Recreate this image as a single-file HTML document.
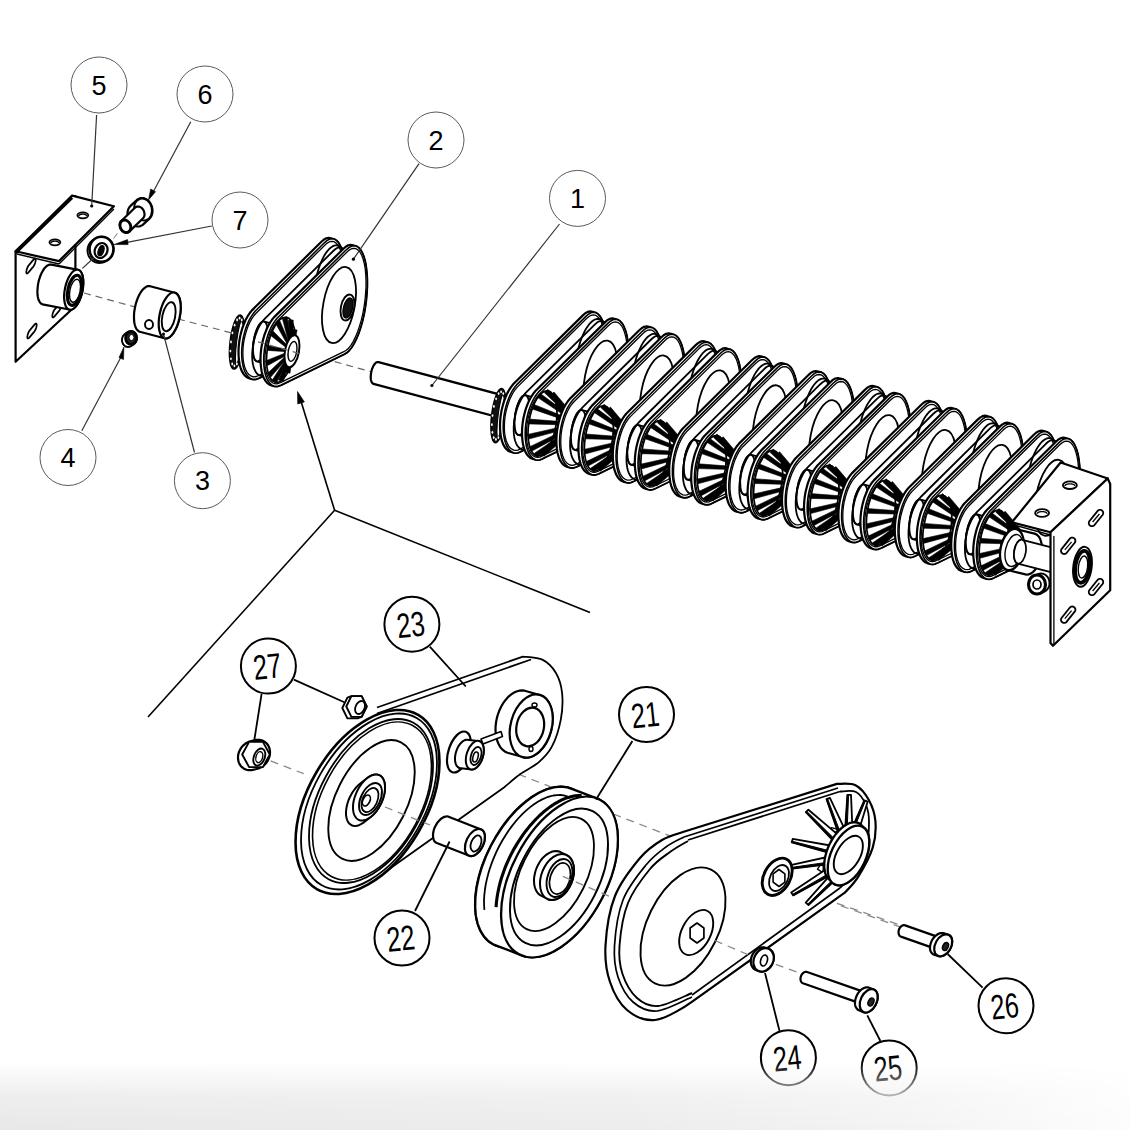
<!DOCTYPE html><html><head><meta charset="utf-8"><style>html,body{margin:0;padding:0;background:#fff;}svg{display:block;font-family:"Liberation Sans",sans-serif;}</style></head><body><svg width="1130" height="1130" viewBox="0 0 1130 1130"><rect x="0" y="0" width="1130" height="1130" fill="#fff"/><line x1="334.6" y1="510.3" x2="148" y2="717" stroke="#000" stroke-width="1.6" /><line x1="334.6" y1="510.3" x2="590" y2="612.5" stroke="#000" stroke-width="1.6" /><line x1="334.6" y1="510.3" x2="300" y2="398" stroke="#000" stroke-width="1.6" /><path d="M297.5,391.5 304.4,401.9 297.7,404 Z" fill="#000" stroke="#000" stroke-width="0.6" stroke-linejoin="round" /><line x1="84" y1="293" x2="139" y2="308" stroke="#666" stroke-width="1.2" stroke-dasharray="7 5"/><line x1="178" y1="319" x2="232" y2="333" stroke="#666" stroke-width="1.2" stroke-dasharray="7 5"/><line x1="300" y1="352" x2="372" y2="372" stroke="#666" stroke-width="1.2" stroke-dasharray="7 5"/><path d="M15.6,251.3 15.6,361.8 75.4,306 75.4,196 Z" fill="#fff" stroke="#000" stroke-width="2.2" stroke-linejoin="round" /><path d="M26.3,272.2 26.3,271.7 26.4,271.2 26.4,270.7 26.6,270.2 26.7,269.6 26.9,269 27.1,268.4 27.3,267.8 27.6,267.3 27.9,266.8 28.1,266.3 28.4,265.8 28.7,265.4 33.7,259.4 34,259.1 34.3,258.8 34.5,258.6 34.8,258.5 35,258.5 35.2,258.5 35.4,258.6 35.5,258.8 35.6,259.1 35.7,259.4 35.7,259.8 35.7,260.3 35.6,260.8 35.6,261.3 35.4,261.8 35.3,262.4 35.1,263 34.9,263.6 34.7,264.2 34.4,264.7 34.1,265.2 33.9,265.7 33.6,266.2 33.3,266.6 28.3,272.6 28,272.9 27.7,273.2 27.5,273.4 27.2,273.5 27,273.5 26.8,273.5 26.6,273.4 26.5,273.2 26.4,272.9 26.3,272.6 Z" fill="#fff" stroke="#000" stroke-width="1.7" stroke-linejoin="round" /><path d="M27.3,337.2 27.3,336.7 27.4,336.2 27.4,335.7 27.6,335.2 27.7,334.6 27.9,334 28.1,333.4 28.3,332.8 28.6,332.3 28.9,331.8 29.1,331.3 29.4,330.8 29.7,330.4 34.7,324.4 35,324.1 35.3,323.8 35.5,323.6 35.8,323.5 36,323.5 36.2,323.5 36.4,323.6 36.5,323.8 36.6,324.1 36.7,324.4 36.7,324.8 36.7,325.3 36.6,325.8 36.6,326.3 36.4,326.8 36.3,327.4 36.1,328 35.9,328.6 35.7,329.2 35.4,329.7 35.1,330.2 34.9,330.7 34.6,331.2 34.3,331.6 29.3,337.6 29,337.9 28.7,338.2 28.5,338.4 28.2,338.5 28,338.5 27.8,338.5 27.6,338.4 27.5,338.2 27.4,337.9 27.3,337.6 Z" fill="#fff" stroke="#000" stroke-width="1.7" stroke-linejoin="round" /><path d="M52.3,316.2 52.3,315.7 52.4,315.2 52.4,314.7 52.6,314.2 52.7,313.6 52.9,313 53.1,312.4 53.3,311.8 53.6,311.3 53.9,310.8 54.1,310.3 54.4,309.8 54.7,309.4 59.7,303.4 60,303.1 60.3,302.8 60.5,302.6 60.8,302.5 61,302.5 61.2,302.5 61.4,302.6 61.5,302.8 61.6,303.1 61.7,303.4 61.7,303.8 61.7,304.3 61.6,304.8 61.6,305.3 61.4,305.8 61.3,306.4 61.1,307 60.9,307.6 60.7,308.2 60.4,308.7 60.1,309.2 59.9,309.7 59.6,310.2 59.3,310.6 54.3,316.6 54,316.9 53.7,317.2 53.5,317.4 53.2,317.5 53,317.5 52.8,317.5 52.6,317.4 52.5,317.2 52.4,316.9 52.3,316.6 Z" fill="#fff" stroke="#000" stroke-width="1.7" stroke-linejoin="round" /><path d="M15.6,251.3 72.1,195.6 113.9,206.3 59,261.1 Z" fill="#fff" stroke="#000" stroke-width="2.2" stroke-linejoin="round" /><line x1="17" y1="254" x2="59" y2="264" stroke="#000" stroke-width="1.4" /><line x1="59" y1="264" x2="113.9" y2="209" stroke="#000" stroke-width="1.4" /><line x1="15.6" y1="253" x2="72.1" y2="197.6" stroke="#000" stroke-width="2.9" /><ellipse cx="82.8" cy="215.3" rx="5.5" ry="3" transform="rotate(0 82.8 215.3)" fill="#fff" stroke="#000" stroke-width="1.7" /><path d="M78.8,216.1 78.8,215.9 78.9,215.7 79,215.5 79.1,215.3 79.3,215.2 79.5,215 79.7,214.8 80,214.7 80.3,214.6 80.6,214.4 80.9,214.3 81.3,214.3 81.6,214.2 82,214.1 82.4,214.1 82.8,214.1 83.2,214.1 83.6,214.1 84,214.2 84.3,214.3 84.7,214.3 85,214.4 85.3,214.6 85.6,214.7 85.9,214.8 86.1,215 86.3,215.2 86.5,215.3 86.6,215.5 86.7,215.7 86.8,215.9 86.8,216.1" fill="none" stroke="#000" stroke-width="1.4" stroke-linejoin="round" /><ellipse cx="54.9" cy="242.3" rx="5.5" ry="3" transform="rotate(0 54.9 242.3)" fill="#fff" stroke="#000" stroke-width="1.7" /><path d="M50.9,243.1 50.9,242.9 51,242.7 51.1,242.5 51.2,242.3 51.4,242.2 51.6,242 51.8,241.8 52.1,241.7 52.4,241.6 52.7,241.4 53,241.3 53.4,241.3 53.7,241.2 54.1,241.1 54.5,241.1 54.9,241.1 55.3,241.1 55.7,241.1 56.1,241.2 56.4,241.3 56.8,241.3 57.1,241.4 57.4,241.6 57.7,241.7 58,241.8 58.2,242 58.4,242.2 58.6,242.3 58.7,242.5 58.8,242.7 58.9,242.9 58.9,243.1" fill="none" stroke="#000" stroke-width="1.4" stroke-linejoin="round" /><path d="M37.4,292.1 37.5,289.7 37.7,287.1 38,284.5 38.5,281.9 39.2,279.3 40,276.9 40.9,274.5 42,272.3 43.1,270.4 44.2,268.6 45.5,267.2 46.7,266 48,265.2 49.2,264.7 50.4,264.5 51.5,264.7 78.2,269.9 79.3,270.4 80.3,271.2 81.1,272.4 81.9,273.8 82.5,275.6 82.9,277.5 83.2,279.7 83.3,282.1 83.2,284.5 83,287.1 82.7,289.7 82.2,292.3 81.5,294.9 80.7,297.4 79.8,299.7 78.8,301.9 77.6,303.8 76.5,305.6 75.2,307 74,308.2 72.7,309 71.5,309.5 70.3,309.7 69.2,309.5 42.5,304.3 41.4,303.8 40.4,303 39.6,301.8 38.8,300.4 38.2,298.6 37.8,296.7 37.5,294.5 Z" fill="#fff" stroke="#000" stroke-width="2.2" stroke-linejoin="round" /><ellipse cx="73.7" cy="289.7" rx="20.4" ry="8.8" transform="rotate(101.9 73.7 289.7)" fill="#fff" stroke="#000" stroke-width="2.2" /><ellipse cx="74.5" cy="290.3" rx="15.3" ry="6.6" transform="rotate(101.9 74.5 290.3)" fill="#fff" stroke="#000" stroke-width="3.1" /><ellipse cx="75" cy="290.8" rx="11.7" ry="5.1" transform="rotate(101.9 75 290.8)" fill="#fff" stroke="#000" stroke-width="1.4" /><path d="M87.5,250.5 87.6,248.9 87.9,247.3 88.4,245.7 89.1,244.2 90,242.9 91,241.7 92.2,240.6 93.5,239.7 95.5,238.5 96.9,237.8 98.4,237.2 99.9,236.9 101.5,236.8 103.1,236.9 104.6,237.2 106.1,237.8 107.5,238.5 108.8,239.4 110,240.5 111,241.7 111.9,243.1 112.6,244.5 113.1,246.1 113.4,247.7 113.5,249.3 113.4,250.9 113.1,252.5 112.6,254.1 111.9,255.6 111,256.9 110,258.1 108.8,259.2 107.5,260.1 105.5,261.3 104.1,262.1 102.6,262.6 101.1,262.9 99.5,263 97.9,262.9 96.4,262.6 94.9,262.1 93.5,261.3 92.2,260.4 91,259.3 90,258.1 89.1,256.8 88.4,255.3 87.9,253.7 87.6,252.1 Z" fill="#fff" stroke="#000" stroke-width="1.9" stroke-linejoin="round" /><ellipse cx="101.5" cy="249.3" rx="12" ry="12.5" transform="rotate(0 101.5 249.3)" fill="#fff" stroke="#000" stroke-width="2.6" /><ellipse cx="101.1" cy="250.5" rx="7.7" ry="6.2" transform="rotate(113.5 101.1 250.5)" fill="#fff" stroke="#000" stroke-width="2.2" /><ellipse cx="101" cy="250.7" rx="5.2" ry="2.6" transform="rotate(108.4 101 250.7)" fill="#000" stroke="#000" stroke-width="1.4" /><path d="M127.5,213.5 127.6,212 127.9,210.6 128.3,209.2 128.9,208 129.6,206.9 130.5,205.9 136.5,200.4 137.4,199.5 138.5,198.9 139.6,198.4 140.8,198.1 142,198 143.2,198.1 144.5,198.4 145.7,198.9 146.9,199.5 148,200.4 149,201.4 149.9,202.5 150.7,203.8 151.3,205.1 151.9,206.5 152.2,208 152.4,209.5 152.5,211 152.4,212.5 152.1,213.9 151.7,215.2 151.1,216.5 150.4,217.6 149.5,218.6 143.5,224.1 142.6,225 141.5,225.6 140.4,226.1 139.2,226.4 138,226.5 136.8,226.4 135.5,226.1 134.3,225.6 133.1,225 132,224.1 131,223.1 130.1,222 129.3,220.8 128.7,219.4 128.1,218 127.8,216.5 127.5,215 Z" fill="#fff" stroke="#000" stroke-width="2.2" stroke-linejoin="round" /><ellipse cx="143" cy="209.5" rx="11.1" ry="8.8" transform="rotate(75.6 143 209.5)" fill="#fff" stroke="#000" stroke-width="1.9" /><path d="M119.9,225.3 119.9,224.5 120,223.7 120.2,222.9 120.5,222.2 120.9,221.6 121.3,221 134.9,207.8 135.4,207.4 136,207 136.6,206.7 137.3,206.6 138,206.5 138.7,206.6 139.4,206.7 140.2,207 140.8,207.4 141.5,207.8 142.1,208.4 142.7,209 143.2,209.8 143.6,210.5 144,211.3 144.2,212.2 144.4,213 144.5,213.8 144.5,214.7 144.4,215.5 144.2,216.2 143.9,217 143.5,217.6 143.1,218.2 129.5,231.4 129,231.8 128.4,232.2 127.8,232.5 127.1,232.6 126.4,232.7 125.7,232.6 125,232.5 124.2,232.2 123.6,231.8 122.9,231.4 122.3,230.8 121.7,230.2 121.2,229.4 120.8,228.7 120.4,227.9 120.2,227.1 120,226.2 Z" fill="#fff" stroke="#000" stroke-width="2.2" stroke-linejoin="round" /><ellipse cx="125.4" cy="226.2" rx="6.5" ry="5.2" transform="rotate(63.4 125.4 226.2)" fill="#fff" stroke="#000" stroke-width="2.9" /><line x1="96.6" y1="115" x2="91.7" y2="206" stroke="#333" stroke-width="1.2" /><circle cx="91.7" cy="206" r="1.6" fill="#000"/><line x1="190.8" y1="121.8" x2="151" y2="196" stroke="#333" stroke-width="1.2" /><path d="M148.5,199.9 150.7,189 155.5,191.7 Z" fill="#000" stroke="#000" stroke-width="0.6" stroke-linejoin="round" /><line x1="211.8" y1="226" x2="127" y2="242.4" stroke="#333" stroke-width="1.2" /><path d="M114.2,244.5 127.5,239.6 128.1,244.6 Z" fill="#000" stroke="#000" stroke-width="0.6" stroke-linejoin="round" /><line x1="93.9" y1="257.7" x2="82.4" y2="268.4" stroke="#333" stroke-width="1.2" /><line x1="117.4" y1="233.4" x2="113.5" y2="238.5" stroke="#777" stroke-width="1" /><path d="M134,317.8 134,314.9 134.2,312 134.7,309 135.3,306 136,303.1 137,300.2 138,297.5 139.2,295 140.5,292.7 141.8,290.8 143.2,289.1 144.7,287.8 146.1,286.8 147.5,286.2 148.9,286 150.2,286.2 174.9,292.7 176.2,293.3 177.3,294.2 178.2,295.6 179.1,297.2 179.8,299.2 180.3,301.5 180.6,304 180.7,306.7 180.7,309.6 180.4,312.5 180,315.5 179.4,318.5 178.7,321.4 177.7,324.3 176.7,327 175.5,329.5 174.2,331.8 172.9,333.8 171.5,335.4 170,336.8 168.6,337.7 167.2,338.3 165.8,338.5 164.5,338.3 139.8,331.8 138.6,331.2 137.4,330.2 136.4,328.9 135.6,327.2 134.9,325.3 134.4,323 134.1,320.5 Z" fill="#fff" stroke="#000" stroke-width="2.2" stroke-linejoin="round" /><ellipse cx="169.7" cy="315.5" rx="23.4" ry="10.1" transform="rotate(101.9 169.7 315.5)" fill="#fff" stroke="#000" stroke-width="2.2" /><ellipse cx="168.7" cy="316.7" rx="14.8" ry="6.4" transform="rotate(101.9 168.7 316.7)" fill="#fff" stroke="#000" stroke-width="1.9" /><ellipse cx="149" cy="324.5" rx="4" ry="4.5" transform="rotate(0 149 324.5)" fill="#fff" stroke="#000" stroke-width="1.9" /><path d="M122,340 122,339.1 122.2,338.2 122.5,337.3 122.8,336.5 123.2,335.7 123.8,335.1 124.3,334.4 125,333.9 128,331.9 128.7,331.5 129.4,331.2 130.2,331.1 131,331 131.8,331.1 132.6,331.2 133.3,331.5 134,331.9 134.7,332.4 135.2,333.1 135.8,333.7 136.2,334.5 136.5,335.3 136.8,336.2 136.9,337.1 137,338 136.9,338.9 136.8,339.8 136.5,340.7 136.2,341.5 135.8,342.3 135.2,342.9 134.7,343.6 134,344.1 131,346.1 130.3,346.5 129.6,346.8 128.8,346.9 128,347 127.2,346.9 126.5,346.8 125.7,346.5 125,346.1 124.3,345.6 123.8,344.9 123.2,344.3 122.8,343.5 122.5,342.7 122.2,341.8 122,340.9 Z" fill="#fff" stroke="#000" stroke-width="1.9" stroke-linejoin="round" /><ellipse cx="131" cy="338" rx="5.5" ry="6.5" transform="rotate(0 131 338)" fill="#222" stroke="#000" stroke-width="2.6" /><ellipse cx="131.5" cy="337.5" rx="2.5" ry="3" transform="rotate(0 131.5 337.5)" fill="#fff" stroke="#000" stroke-width="1" /><line x1="163.5" y1="334" x2="194.5" y2="452.5" stroke="#333" stroke-width="1.2" /><circle cx="163.5" cy="334" r="1.5" fill="#000"/><line x1="121" y1="357" x2="81.8" y2="430.7" stroke="#333" stroke-width="1.2" /><path d="M123.9,347 119,357.5 123.5,359.5 Z" fill="#000" stroke="#000" stroke-width="0.6" stroke-linejoin="round" /><defs><g id="ru0"><ellipse cx="-41" cy="-7" rx="27.2" ry="6.8" transform="rotate(96.8 -41 -7)" fill="#111" stroke="#000" stroke-width="1.7" /><ellipse cx="-39" cy="-6.6" rx="21.2" ry="2.4" transform="rotate(96.9 -39 -6.6)" fill="#fff" stroke="#000" stroke-width="1" /><ellipse cx="-35" cy="-7" rx="0.9" ry="1.4" transform="rotate(0 -35 -7)" fill="#fff" stroke="none" stroke-width="0" /><ellipse cx="-36.4" cy="2.1" rx="0.9" ry="1.4" transform="rotate(0 -36.4 2.1)" fill="#fff" stroke="none" stroke-width="0" /><ellipse cx="-38.6" cy="9.8" rx="0.9" ry="1.4" transform="rotate(0 -38.6 9.8)" fill="#fff" stroke="none" stroke-width="0" /><ellipse cx="-41.1" cy="15" rx="0.9" ry="1.4" transform="rotate(0 -41.1 15)" fill="#fff" stroke="none" stroke-width="0" /><ellipse cx="-43.6" cy="16.8" rx="0.9" ry="1.4" transform="rotate(0 -43.6 16.8)" fill="#fff" stroke="none" stroke-width="0" /><ellipse cx="-45.8" cy="15" rx="0.9" ry="1.4" transform="rotate(0 -45.8 15)" fill="#fff" stroke="none" stroke-width="0" /><ellipse cx="-47.1" cy="9.8" rx="0.9" ry="1.4" transform="rotate(0 -47.1 9.8)" fill="#fff" stroke="none" stroke-width="0" /><ellipse cx="-47.6" cy="2.1" rx="0.9" ry="1.4" transform="rotate(0 -47.6 2.1)" fill="#fff" stroke="none" stroke-width="0" /><ellipse cx="-47" cy="-7" rx="0.9" ry="1.4" transform="rotate(0 -47 -7)" fill="#fff" stroke="none" stroke-width="0" /><ellipse cx="-45.6" cy="-16.1" rx="0.9" ry="1.4" transform="rotate(0 -45.6 -16.1)" fill="#fff" stroke="none" stroke-width="0" /><ellipse cx="-43.4" cy="-23.8" rx="0.9" ry="1.4" transform="rotate(0 -43.4 -23.8)" fill="#fff" stroke="none" stroke-width="0" /><ellipse cx="-40.9" cy="-29" rx="0.9" ry="1.4" transform="rotate(0 -40.9 -29)" fill="#fff" stroke="none" stroke-width="0" /><ellipse cx="-38.4" cy="-30.8" rx="0.9" ry="1.4" transform="rotate(0 -38.4 -30.8)" fill="#fff" stroke="none" stroke-width="0" /><ellipse cx="-36.2" cy="-29" rx="0.9" ry="1.4" transform="rotate(0 -36.2 -29)" fill="#fff" stroke="none" stroke-width="0" /><ellipse cx="-34.9" cy="-23.8" rx="0.9" ry="1.4" transform="rotate(0 -34.9 -23.8)" fill="#fff" stroke="none" stroke-width="0" /><ellipse cx="-34.4" cy="-16.1" rx="0.9" ry="1.4" transform="rotate(0 -34.4 -16.1)" fill="#fff" stroke="none" stroke-width="0" /><path d="M-39.5,2.5 -39.3,-2.2 -38.8,-7 -38,-11.8 -36.9,-16.4 -35.6,-21 -34,-25.2 -32.3,-29.2 -30.3,-32.8 -28.2,-36 -26.1,-38.6 43.1,-107 45.7,-109.3 48.2,-110.7 50.7,-111.2 53.1,-110.7 56.3,-109.8 58.5,-108.4 60.5,-106.2 62.3,-103 63.9,-99 65.2,-94.3 66.1,-89 66.8,-83 67.2,-76.7 67.2,-69.9 66.8,-62.9 66.2,-55.8 65.2,-48.7 64,-41.7 62.4,-34.9 60.6,-28.6 58.6,-22.6 56.4,-17.3 54,-12.6 51.6,-8.6 49,-5.5 46.5,-3.2 44,-1.8 -19.3,29.2 -21.6,30.1 -23.8,30.4 -25.9,30.1 -29.1,29.2 -31.2,28.3 -33,26.7 -34.7,24.6 -36.2,22 -37.4,18.8 -38.4,15.2 -39,11.2 -39.4,7 Z" fill="#fff" stroke="#000" stroke-width="2.2" stroke-linejoin="round" /><path d="M-36.3,3.4 -36.1,-1.3 -35.6,-6.1 -34.8,-10.9 -33.7,-15.6 -32.4,-20.1 -30.8,-24.4 -29.1,-28.3 -27.1,-31.9 -25,-35.1 -22.9,-37.7 46.4,-106.2 48.9,-108.4 51.4,-109.8 53.9,-110.3 56.3,-109.8 58.5,-108.4 60.5,-106.2 62.3,-103 63.9,-99 65.2,-94.3 66.1,-89 66.8,-83 67.2,-76.7 67.2,-69.9 66.8,-62.9 66.2,-55.8 65.2,-48.7 64,-41.7 62.4,-34.9 60.6,-28.6 58.6,-22.6 56.4,-17.3 54,-12.6 51.6,-8.6 49,-5.5 46.5,-3.2 44,-1.8 -19.3,29.2 -21.6,30.1 -23.8,30.4 -25.9,30.1 -28,29.2 -29.8,27.6 -31.5,25.5 -33,22.9 -34.2,19.7 -35.1,16.1 -35.8,12.2 -36.2,7.9 Z" fill="#fff" stroke="#000" stroke-width="1.6" stroke-linejoin="round" /><path d="M-35.1,2.7 -34.9,-1.7 -34.4,-6.1 -33.6,-10.5 -32.5,-14.9 -31.2,-19.1 -29.8,-23.1 -28.1,-26.7 -26.3,-30.1 -24.3,-33 -22.2,-35.5 46.8,-103.8 49.2,-105.9 51.6,-107.3 53.9,-107.7 56.1,-107.3 58.1,-105.9 60,-103.8 61.7,-100.8 63.1,-97 64.3,-92.5 65.2,-87.4 65.7,-81.8 66,-75.7 66,-69.2 65.6,-62.6 65,-55.8 64,-49 62.8,-42.4 61.3,-35.9 59.5,-29.9 57.6,-24.2 55.5,-19.1 53.3,-14.6 51,-10.8 48.6,-7.8 46.2,-5.7 43.8,-4.3 -19.6,26.6 -21.7,27.5 -23.8,27.8 -25.8,27.5 -27.6,26.6 -29.4,25.2 -30.9,23.3 -32.2,20.8 -33.3,17.9 -34.2,14.5 -34.8,10.8 -35.1,6.9 Z" fill="none" stroke="#000" stroke-width="1.3" stroke-linejoin="round" /><path d="M-25,0.1 -24.9,-2.3 -24.7,-4.9 -24.4,-7.5 -23.9,-10.1 -23.4,-12.7 -22.7,-15.2 -21.9,-17.5 -21.1,-19.7 -20.2,-21.6 -19.3,-23.4 -18.3,-24.8 -17.4,-26 -16.4,-26.8 -15.4,-27.3 -14.5,-27.5 -13.6,-27.3 -6.1,-25.3 -5.3,-24.8 -4.6,-24 -4,-22.8 -3.4,-21.4 -3,-19.6 -2.7,-17.7 -2.5,-15.5 -2.5,-13.2 -2.6,-10.7 -2.8,-8.1 -3.1,-5.5 -3.6,-2.9 -4.1,-0.3 -4.8,2.1 -5.5,4.5 -6.4,6.7 -7.3,8.6 -8.2,10.4 -9.2,11.8 -10.1,13 -11.1,13.8 -12.1,14.3 -13,14.5 -13.9,14.3 -21.4,12.3 -22.2,11.8 -22.9,11 -23.5,9.8 -24.1,8.4 -24.5,6.6 -24.8,4.7 -24.9,2.5 Z" fill="#fff" stroke="#000" stroke-width="1.9" stroke-linejoin="round" /><ellipse cx="-17.5" cy="-7.5" rx="20.1" ry="6.8" transform="rotate(99.7 -17.5 -7.5)" fill="#fff" stroke="#000" stroke-width="1.9" /><path d="M-25.8,8.2 -25.8,4.4 -25.5,0.5 -24.9,-3.5 -24.2,-7.5 -23.2,-11.4 -22,-15.2 -20.6,-18.8 -19,-22.1 -17.3,-25.1 -15.5,-27.7 -13.6,-29.9 55.2,-98 57.5,-100 59.6,-101.3 61.7,-101.7 63.7,-101.3 65.5,-100 67.2,-98 68.7,-95.2 69.9,-91.7 70.9,-87.5 71.7,-82.7 72.1,-77.5 72.3,-71.8 72.2,-65.8 71.8,-59.5 71.1,-53.2 70.2,-46.9 69,-40.6 67.5,-34.6 65.9,-28.9 64.1,-23.7 62.2,-18.9 60.1,-14.7 57.9,-11.2 55.8,-8.4 53.5,-6.3 51.4,-5.1 -12.2,26 -14.1,26.7 -16,27 -17.8,26.7 -19.4,26 -20.9,24.7 -22.3,22.9 -23.4,20.7 -24.4,18.1 -25.1,15.1 -25.6,11.8 Z" fill="none" stroke="#000" stroke-width="1.8" stroke-linejoin="round" /><path d="M36.2,-21.6 35.7,-24.7 35.2,-28 34.9,-31.5 34.6,-35.1 34.5,-38.8 34.5,-42.6 34.6,-46.5 34.9,-50.4 35.2,-54.4 35.7,-58.3 36.3,-62.2 37,-66.1 37.8,-69.9 38.7,-73.6 39.7,-77.1 40.7,-80.6 41.9,-83.8 43.1,-86.9 44.4,-89.7 45.7,-92.4 47.1,-94.7 48.6,-96.9 50,-98.7 51.5,-100.3 53,-101.6 54.5,-102.6 56,-103.3 57.5,-103.6 58.9,-103.7 60.4,-103.4 61.7,-102.9 63.1,-102" fill="none" stroke="#000" stroke-width="1.8" stroke-linejoin="round" /><path d="M-17.5,9.4 -17.3,4.8 -16.8,0 -16,-4.8 -14.9,-9.4 -13.6,-14 -12,-18.2 -10.3,-22.2 -8.3,-25.8 -6.2,-29 -4.1,-31.6 65.2,-100 67.7,-102.3 70.2,-103.7 72.7,-104.2 75.1,-103.7 78.3,-102.8 80.5,-101.4 82.5,-99.2 84.3,-96 85.9,-92 87.2,-87.3 88.1,-82 88.8,-76 89.2,-69.7 89.2,-62.9 88.8,-55.9 88.2,-48.8 87.2,-41.7 86,-34.7 84.4,-27.9 82.6,-21.6 80.6,-15.6 78.4,-10.3 76,-5.6 73.6,-1.6 71,1.6 68.5,3.8 66,5.2 2.7,36.2 0.4,37.1 -1.8,37.4 -4,37.1 -7.2,36.2 -9.2,35.3 -11,33.7 -12.7,31.6 -14.2,29 -15.4,25.8 -16.4,22.2 -17,18.2 -17.4,14 Z" fill="#fff" stroke="#000" stroke-width="2.2" stroke-linejoin="round" /><path d="M-14.3,10.3 -14.1,5.7 -13.6,0.9 -12.8,-3.9 -11.7,-8.6 -10.4,-13.1 -8.8,-17.4 -7.1,-21.3 -5.1,-24.9 -3,-28.1 -0.9,-30.7 68.3,-99.2 70.9,-101.4 73.4,-102.8 75.9,-103.3 78.3,-102.8 80.5,-101.4 82.5,-99.2 84.3,-96 85.9,-92 87.2,-87.3 88.1,-82 88.8,-76 89.2,-69.7 89.2,-62.9 88.8,-55.9 88.2,-48.8 87.2,-41.7 86,-34.7 84.4,-27.9 82.6,-21.6 80.6,-15.6 78.4,-10.3 76,-5.6 73.6,-1.6 71,1.6 68.5,3.8 66,5.2 2.7,36.2 0.4,37.1 -1.8,37.4 -4,37.1 -6,36.2 -7.8,34.6 -9.5,32.5 -11,29.9 -12.2,26.7 -13.2,23.1 -13.8,19.1 -14.2,14.9 Z" fill="#fff" stroke="#000" stroke-width="1.6" stroke-linejoin="round" /><path d="M-13.1,9.7 -12.9,5.3 -12.3,0.9 -11.6,-3.5 -10.5,-7.9 -9.2,-12.1 -7.8,-16.1 -6.1,-19.7 -4.3,-23.1 -2.3,-26 -0.2,-28.5 68.8,-96.8 71.2,-98.9 73.6,-100.3 75.9,-100.7 78.1,-100.3 80.2,-98.9 82,-96.8 83.7,-93.8 85.1,-90 86.3,-85.5 87.2,-80.4 87.7,-74.8 88,-68.7 88,-62.2 87.6,-55.6 87,-48.8 86,-42 84.8,-35.4 83.3,-28.9 81.5,-22.9 79.6,-17.2 77.5,-12.1 75.3,-7.6 73,-3.9 70.6,-0.8 68.2,1.3 65.8,2.7 2.4,33.6 0.3,34.5 -1.8,34.8 -3.8,34.5 -5.7,33.6 -7.4,32.2 -8.9,30.3 -10.2,27.8 -11.3,24.9 -12.2,21.5 -12.8,17.9 -13.1,13.9 Z" fill="none" stroke="#000" stroke-width="1.3" stroke-linejoin="round" /><ellipse cx="61" cy="-44" rx="38.6" ry="15.7" transform="rotate(100.8 61 -44)" fill="#fff" stroke="#000" stroke-width="1.8" /><ellipse cx="69.5" cy="-41.5" rx="13.2" ry="6.6" transform="rotate(101.7 69.5 -41.5)" fill="#fff" stroke="#000" stroke-width="1.9" /><ellipse cx="70" cy="-41" rx="10.2" ry="4.5" transform="rotate(104 70 -41)" fill="#111" stroke="#000" stroke-width="1.4" /><ellipse cx="3" cy="0.8" rx="32.9" ry="13.6" transform="rotate(99.5 3 0.8)" fill="#fff" stroke="#000" stroke-width="1.7" /><path d="M15.6,12.7 40.4,2.6 39.6,0.4 14,8.1 Z" fill="#000" stroke="#000" stroke-width="0.6" stroke-linejoin="round" /><path d="M11,25.7 40.7,2.5 39.3,0.5 8.2,21.8 Z" fill="#000" stroke="#000" stroke-width="0.6" stroke-linejoin="round" /><path d="M4.4,33.7 40.8,2.4 39.2,0.6 1.3,29.9 Z" fill="#000" stroke="#000" stroke-width="0.6" stroke-linejoin="round" /><path d="M-2.5,34.7 40.7,2.5 39.3,0.5 -5.3,30.8 Z" fill="#000" stroke="#000" stroke-width="0.6" stroke-linejoin="round" /><path d="M-7.9,28.6 40.5,2.6 39.5,0.4 -10.1,24.3 Z" fill="#000" stroke="#000" stroke-width="0.6" stroke-linejoin="round" /><path d="M-10.8,16.5 40.3,2.7 39.7,0.3 -12,11.9 Z" fill="#000" stroke="#000" stroke-width="0.6" stroke-linejoin="round" /><path d="M-10.6,1.3 39.9,2.7 40.1,0.3 -10.4,-3.5 Z" fill="#000" stroke="#000" stroke-width="0.6" stroke-linejoin="round" /><path d="M-7.3,-13.7 39.6,2.6 40.4,0.4 -5.6,-18.2 Z" fill="#000" stroke="#000" stroke-width="0.6" stroke-linejoin="round" /><path d="M-1.7,-25 39.3,2.5 40.7,0.5 1.1,-28.9 Z" fill="#000" stroke="#000" stroke-width="0.6" stroke-linejoin="round" /><path d="M4.9,-29.9 39.2,2.4 40.8,0.6 8.3,-33.3 Z" fill="#000" stroke="#000" stroke-width="0.6" stroke-linejoin="round" /><path d="M11,-27.3 39.1,2.3 40.9,0.7 14.5,-30.5 Z" fill="#000" stroke="#000" stroke-width="0.6" stroke-linejoin="round" /><path d="M15,-17.5 39.2,2.4 40.8,0.6 18.2,-21.1 Z" fill="#000" stroke="#000" stroke-width="0.6" stroke-linejoin="round" /><path d="M16.7,-2.8 39.7,2.7 40.3,0.3 18,-7.4 Z" fill="#000" stroke="#000" stroke-width="0.6" stroke-linejoin="round" /></g><g id="ru"><path d="M-39.5,2.5 -39.3,-2.2 -38.8,-7 -38,-11.8 -36.9,-16.4 -35.6,-21 -34,-25.2 -32.3,-29.2 -30.3,-32.8 -28.2,-36 -26.1,-38.6 43.1,-107 45.7,-109.3 48.2,-110.7 50.7,-111.2 53.1,-110.7 56.3,-109.8 58.5,-108.4 60.5,-106.2 62.3,-103 63.9,-99 65.2,-94.3 66.1,-89 66.8,-83 67.2,-76.7 67.2,-69.9 66.8,-62.9 66.2,-55.8 65.2,-48.7 64,-41.7 62.4,-34.9 60.6,-28.6 58.6,-22.6 56.4,-17.3 54,-12.6 51.6,-8.6 49,-5.5 46.5,-3.2 44,-1.8 -19.3,29.2 -21.6,30.1 -23.8,30.4 -25.9,30.1 -29.1,29.2 -31.2,28.3 -33,26.7 -34.7,24.6 -36.2,22 -37.4,18.8 -38.4,15.2 -39,11.2 -39.4,7 Z" fill="#fff" stroke="#000" stroke-width="2.2" stroke-linejoin="round" /><path d="M-36.3,3.4 -36.1,-1.3 -35.6,-6.1 -34.8,-10.9 -33.7,-15.6 -32.4,-20.1 -30.8,-24.4 -29.1,-28.3 -27.1,-31.9 -25,-35.1 -22.9,-37.7 46.4,-106.2 48.9,-108.4 51.4,-109.8 53.9,-110.3 56.3,-109.8 58.5,-108.4 60.5,-106.2 62.3,-103 63.9,-99 65.2,-94.3 66.1,-89 66.8,-83 67.2,-76.7 67.2,-69.9 66.8,-62.9 66.2,-55.8 65.2,-48.7 64,-41.7 62.4,-34.9 60.6,-28.6 58.6,-22.6 56.4,-17.3 54,-12.6 51.6,-8.6 49,-5.5 46.5,-3.2 44,-1.8 -19.3,29.2 -21.6,30.1 -23.8,30.4 -25.9,30.1 -28,29.2 -29.8,27.6 -31.5,25.5 -33,22.9 -34.2,19.7 -35.1,16.1 -35.8,12.2 -36.2,7.9 Z" fill="#fff" stroke="#000" stroke-width="1.6" stroke-linejoin="round" /><path d="M-35.1,2.7 -34.9,-1.7 -34.4,-6.1 -33.6,-10.5 -32.5,-14.9 -31.2,-19.1 -29.8,-23.1 -28.1,-26.7 -26.3,-30.1 -24.3,-33 -22.2,-35.5 46.8,-103.8 49.2,-105.9 51.6,-107.3 53.9,-107.7 56.1,-107.3 58.1,-105.9 60,-103.8 61.7,-100.8 63.1,-97 64.3,-92.5 65.2,-87.4 65.7,-81.8 66,-75.7 66,-69.2 65.6,-62.6 65,-55.8 64,-49 62.8,-42.4 61.3,-35.9 59.5,-29.9 57.6,-24.2 55.5,-19.1 53.3,-14.6 51,-10.8 48.6,-7.8 46.2,-5.7 43.8,-4.3 -19.6,26.6 -21.7,27.5 -23.8,27.8 -25.8,27.5 -27.6,26.6 -29.4,25.2 -30.9,23.3 -32.2,20.8 -33.3,17.9 -34.2,14.5 -34.8,10.8 -35.1,6.9 Z" fill="none" stroke="#000" stroke-width="1.3" stroke-linejoin="round" /><path d="M-25,0.1 -24.9,-2.3 -24.7,-4.9 -24.4,-7.5 -23.9,-10.1 -23.4,-12.7 -22.7,-15.2 -21.9,-17.5 -21.1,-19.7 -20.2,-21.6 -19.3,-23.4 -18.3,-24.8 -17.4,-26 -16.4,-26.8 -15.4,-27.3 -14.5,-27.5 -13.6,-27.3 -6.1,-25.3 -5.3,-24.8 -4.6,-24 -4,-22.8 -3.4,-21.4 -3,-19.6 -2.7,-17.7 -2.5,-15.5 -2.5,-13.2 -2.6,-10.7 -2.8,-8.1 -3.1,-5.5 -3.6,-2.9 -4.1,-0.3 -4.8,2.1 -5.5,4.5 -6.4,6.7 -7.3,8.6 -8.2,10.4 -9.2,11.8 -10.1,13 -11.1,13.8 -12.1,14.3 -13,14.5 -13.9,14.3 -21.4,12.3 -22.2,11.8 -22.9,11 -23.5,9.8 -24.1,8.4 -24.5,6.6 -24.8,4.7 -24.9,2.5 Z" fill="#fff" stroke="#000" stroke-width="1.9" stroke-linejoin="round" /><ellipse cx="-17.5" cy="-7.5" rx="20.1" ry="6.8" transform="rotate(99.7 -17.5 -7.5)" fill="#fff" stroke="#000" stroke-width="1.9" /><path d="M-25.8,8.2 -25.8,4.4 -25.5,0.5 -24.9,-3.5 -24.2,-7.5 -23.2,-11.4 -22,-15.2 -20.6,-18.8 -19,-22.1 -17.3,-25.1 -15.5,-27.7 -13.6,-29.9 55.2,-98 57.5,-100 59.6,-101.3 61.7,-101.7 63.7,-101.3 65.5,-100 67.2,-98 68.7,-95.2 69.9,-91.7 70.9,-87.5 71.7,-82.7 72.1,-77.5 72.3,-71.8 72.2,-65.8 71.8,-59.5 71.1,-53.2 70.2,-46.9 69,-40.6 67.5,-34.6 65.9,-28.9 64.1,-23.7 62.2,-18.9 60.1,-14.7 57.9,-11.2 55.8,-8.4 53.5,-6.3 51.4,-5.1 -12.2,26 -14.1,26.7 -16,27 -17.8,26.7 -19.4,26 -20.9,24.7 -22.3,22.9 -23.4,20.7 -24.4,18.1 -25.1,15.1 -25.6,11.8 Z" fill="none" stroke="#000" stroke-width="1.8" stroke-linejoin="round" /><path d="M36.2,-21.6 35.7,-24.7 35.2,-28 34.9,-31.5 34.6,-35.1 34.5,-38.8 34.5,-42.6 34.6,-46.5 34.9,-50.4 35.2,-54.4 35.7,-58.3 36.3,-62.2 37,-66.1 37.8,-69.9 38.7,-73.6 39.7,-77.1 40.7,-80.6 41.9,-83.8 43.1,-86.9 44.4,-89.7 45.7,-92.4 47.1,-94.7 48.6,-96.9 50,-98.7 51.5,-100.3 53,-101.6 54.5,-102.6 56,-103.3 57.5,-103.6 58.9,-103.7 60.4,-103.4 61.7,-102.9 63.1,-102" fill="none" stroke="#000" stroke-width="1.8" stroke-linejoin="round" /><path d="M-17.5,9.4 -17.3,4.8 -16.8,0 -16,-4.8 -14.9,-9.4 -13.6,-14 -12,-18.2 -10.3,-22.2 -8.3,-25.8 -6.2,-29 -4.1,-31.6 65.2,-100 67.7,-102.3 70.2,-103.7 72.7,-104.2 75.1,-103.7 78.3,-102.8 80.5,-101.4 82.5,-99.2 84.3,-96 85.9,-92 87.2,-87.3 88.1,-82 88.8,-76 89.2,-69.7 89.2,-62.9 88.8,-55.9 88.2,-48.8 87.2,-41.7 86,-34.7 84.4,-27.9 82.6,-21.6 80.6,-15.6 78.4,-10.3 76,-5.6 73.6,-1.6 71,1.6 68.5,3.8 66,5.2 2.7,36.2 0.4,37.1 -1.8,37.4 -4,37.1 -7.2,36.2 -9.2,35.3 -11,33.7 -12.7,31.6 -14.2,29 -15.4,25.8 -16.4,22.2 -17,18.2 -17.4,14 Z" fill="#fff" stroke="#000" stroke-width="2.2" stroke-linejoin="round" /><path d="M-14.3,10.3 -14.1,5.7 -13.6,0.9 -12.8,-3.9 -11.7,-8.6 -10.4,-13.1 -8.8,-17.4 -7.1,-21.3 -5.1,-24.9 -3,-28.1 -0.9,-30.7 68.3,-99.2 70.9,-101.4 73.4,-102.8 75.9,-103.3 78.3,-102.8 80.5,-101.4 82.5,-99.2 84.3,-96 85.9,-92 87.2,-87.3 88.1,-82 88.8,-76 89.2,-69.7 89.2,-62.9 88.8,-55.9 88.2,-48.8 87.2,-41.7 86,-34.7 84.4,-27.9 82.6,-21.6 80.6,-15.6 78.4,-10.3 76,-5.6 73.6,-1.6 71,1.6 68.5,3.8 66,5.2 2.7,36.2 0.4,37.1 -1.8,37.4 -4,37.1 -6,36.2 -7.8,34.6 -9.5,32.5 -11,29.9 -12.2,26.7 -13.2,23.1 -13.8,19.1 -14.2,14.9 Z" fill="#fff" stroke="#000" stroke-width="1.6" stroke-linejoin="round" /><path d="M-13.1,9.7 -12.9,5.3 -12.3,0.9 -11.6,-3.5 -10.5,-7.9 -9.2,-12.1 -7.8,-16.1 -6.1,-19.7 -4.3,-23.1 -2.3,-26 -0.2,-28.5 68.8,-96.8 71.2,-98.9 73.6,-100.3 75.9,-100.7 78.1,-100.3 80.2,-98.9 82,-96.8 83.7,-93.8 85.1,-90 86.3,-85.5 87.2,-80.4 87.7,-74.8 88,-68.7 88,-62.2 87.6,-55.6 87,-48.8 86,-42 84.8,-35.4 83.3,-28.9 81.5,-22.9 79.6,-17.2 77.5,-12.1 75.3,-7.6 73,-3.9 70.6,-0.8 68.2,1.3 65.8,2.7 2.4,33.6 0.3,34.5 -1.8,34.8 -3.8,34.5 -5.7,33.6 -7.4,32.2 -8.9,30.3 -10.2,27.8 -11.3,24.9 -12.2,21.5 -12.8,17.9 -13.1,13.9 Z" fill="none" stroke="#000" stroke-width="1.3" stroke-linejoin="round" /><ellipse cx="61" cy="-44" rx="38.6" ry="15.7" transform="rotate(100.8 61 -44)" fill="#fff" stroke="#000" stroke-width="1.8" /><ellipse cx="69.5" cy="-41.5" rx="13.2" ry="6.6" transform="rotate(101.7 69.5 -41.5)" fill="#fff" stroke="#000" stroke-width="1.9" /><ellipse cx="70" cy="-41" rx="10.2" ry="4.5" transform="rotate(104 70 -41)" fill="#111" stroke="#000" stroke-width="1.4" /><ellipse cx="3" cy="0.8" rx="32.9" ry="13.6" transform="rotate(99.5 3 0.8)" fill="#fff" stroke="#000" stroke-width="1.7" /><path d="M15.6,12.7 40.4,2.6 39.6,0.4 14,8.1 Z" fill="#000" stroke="#000" stroke-width="0.6" stroke-linejoin="round" /><path d="M11,25.7 40.7,2.5 39.3,0.5 8.2,21.8 Z" fill="#000" stroke="#000" stroke-width="0.6" stroke-linejoin="round" /><path d="M4.4,33.7 40.8,2.4 39.2,0.6 1.3,29.9 Z" fill="#000" stroke="#000" stroke-width="0.6" stroke-linejoin="round" /><path d="M-2.5,34.7 40.7,2.5 39.3,0.5 -5.3,30.8 Z" fill="#000" stroke="#000" stroke-width="0.6" stroke-linejoin="round" /><path d="M-7.9,28.6 40.5,2.6 39.5,0.4 -10.1,24.3 Z" fill="#000" stroke="#000" stroke-width="0.6" stroke-linejoin="round" /><path d="M-10.8,16.5 40.3,2.7 39.7,0.3 -12,11.9 Z" fill="#000" stroke="#000" stroke-width="0.6" stroke-linejoin="round" /><path d="M-10.6,1.3 39.9,2.7 40.1,0.3 -10.4,-3.5 Z" fill="#000" stroke="#000" stroke-width="0.6" stroke-linejoin="round" /><path d="M-7.3,-13.7 39.6,2.6 40.4,0.4 -5.6,-18.2 Z" fill="#000" stroke="#000" stroke-width="0.6" stroke-linejoin="round" /><path d="M-1.7,-25 39.3,2.5 40.7,0.5 1.1,-28.9 Z" fill="#000" stroke="#000" stroke-width="0.6" stroke-linejoin="round" /><path d="M4.9,-29.9 39.2,2.4 40.8,0.6 8.3,-33.3 Z" fill="#000" stroke="#000" stroke-width="0.6" stroke-linejoin="round" /><path d="M11,-27.3 39.1,2.3 40.9,0.7 14.5,-30.5 Z" fill="#000" stroke="#000" stroke-width="0.6" stroke-linejoin="round" /><path d="M15,-17.5 39.2,2.4 40.8,0.6 18.2,-21.1 Z" fill="#000" stroke="#000" stroke-width="0.6" stroke-linejoin="round" /><path d="M16.7,-2.8 39.7,2.7 40.3,0.3 18,-7.4 Z" fill="#000" stroke="#000" stroke-width="0.6" stroke-linejoin="round" /></g></defs><g transform="translate(278 349)"><ellipse cx="-41" cy="-7" rx="27.2" ry="6.8" transform="rotate(96.8 -41 -7)" fill="#111" stroke="#000" stroke-width="1.7" /><ellipse cx="-39" cy="-6.6" rx="21.2" ry="2.4" transform="rotate(96.9 -39 -6.6)" fill="#fff" stroke="#000" stroke-width="1" /><ellipse cx="-35" cy="-7" rx="0.9" ry="1.4" transform="rotate(0 -35 -7)" fill="#fff" stroke="none" stroke-width="0" /><ellipse cx="-36.4" cy="2.1" rx="0.9" ry="1.4" transform="rotate(0 -36.4 2.1)" fill="#fff" stroke="none" stroke-width="0" /><ellipse cx="-38.6" cy="9.8" rx="0.9" ry="1.4" transform="rotate(0 -38.6 9.8)" fill="#fff" stroke="none" stroke-width="0" /><ellipse cx="-41.1" cy="15" rx="0.9" ry="1.4" transform="rotate(0 -41.1 15)" fill="#fff" stroke="none" stroke-width="0" /><ellipse cx="-43.6" cy="16.8" rx="0.9" ry="1.4" transform="rotate(0 -43.6 16.8)" fill="#fff" stroke="none" stroke-width="0" /><ellipse cx="-45.8" cy="15" rx="0.9" ry="1.4" transform="rotate(0 -45.8 15)" fill="#fff" stroke="none" stroke-width="0" /><ellipse cx="-47.1" cy="9.8" rx="0.9" ry="1.4" transform="rotate(0 -47.1 9.8)" fill="#fff" stroke="none" stroke-width="0" /><ellipse cx="-47.6" cy="2.1" rx="0.9" ry="1.4" transform="rotate(0 -47.6 2.1)" fill="#fff" stroke="none" stroke-width="0" /><ellipse cx="-47" cy="-7" rx="0.9" ry="1.4" transform="rotate(0 -47 -7)" fill="#fff" stroke="none" stroke-width="0" /><ellipse cx="-45.6" cy="-16.1" rx="0.9" ry="1.4" transform="rotate(0 -45.6 -16.1)" fill="#fff" stroke="none" stroke-width="0" /><ellipse cx="-43.4" cy="-23.8" rx="0.9" ry="1.4" transform="rotate(0 -43.4 -23.8)" fill="#fff" stroke="none" stroke-width="0" /><ellipse cx="-40.9" cy="-29" rx="0.9" ry="1.4" transform="rotate(0 -40.9 -29)" fill="#fff" stroke="none" stroke-width="0" /><ellipse cx="-38.4" cy="-30.8" rx="0.9" ry="1.4" transform="rotate(0 -38.4 -30.8)" fill="#fff" stroke="none" stroke-width="0" /><ellipse cx="-36.2" cy="-29" rx="0.9" ry="1.4" transform="rotate(0 -36.2 -29)" fill="#fff" stroke="none" stroke-width="0" /><ellipse cx="-34.9" cy="-23.8" rx="0.9" ry="1.4" transform="rotate(0 -34.9 -23.8)" fill="#fff" stroke="none" stroke-width="0" /><ellipse cx="-34.4" cy="-16.1" rx="0.9" ry="1.4" transform="rotate(0 -34.4 -16.1)" fill="#fff" stroke="none" stroke-width="0" /><path d="M-39.5,2.5 -39.3,-2.2 -38.8,-7 -38,-11.8 -36.9,-16.4 -35.6,-21 -34,-25.2 -32.3,-29.2 -30.3,-32.8 -28.2,-36 -26.1,-38.6 43.1,-107 45.7,-109.3 48.2,-110.7 50.7,-111.2 53.1,-110.7 56.3,-109.8 58.5,-108.4 60.5,-106.2 62.3,-103 63.9,-99 65.2,-94.3 66.1,-89 66.8,-83 67.2,-76.7 67.2,-69.9 66.8,-62.9 66.2,-55.8 65.2,-48.7 64,-41.7 62.4,-34.9 60.6,-28.6 58.6,-22.6 56.4,-17.3 54,-12.6 51.6,-8.6 49,-5.5 46.5,-3.2 44,-1.8 -19.3,29.2 -21.6,30.1 -23.8,30.4 -25.9,30.1 -29.1,29.2 -31.2,28.3 -33,26.7 -34.7,24.6 -36.2,22 -37.4,18.8 -38.4,15.2 -39,11.2 -39.4,7 Z" fill="#fff" stroke="#000" stroke-width="2.2" stroke-linejoin="round" /><path d="M-36.3,3.4 -36.1,-1.3 -35.6,-6.1 -34.8,-10.9 -33.7,-15.6 -32.4,-20.1 -30.8,-24.4 -29.1,-28.3 -27.1,-31.9 -25,-35.1 -22.9,-37.7 46.4,-106.2 48.9,-108.4 51.4,-109.8 53.9,-110.3 56.3,-109.8 58.5,-108.4 60.5,-106.2 62.3,-103 63.9,-99 65.2,-94.3 66.1,-89 66.8,-83 67.2,-76.7 67.2,-69.9 66.8,-62.9 66.2,-55.8 65.2,-48.7 64,-41.7 62.4,-34.9 60.6,-28.6 58.6,-22.6 56.4,-17.3 54,-12.6 51.6,-8.6 49,-5.5 46.5,-3.2 44,-1.8 -19.3,29.2 -21.6,30.1 -23.8,30.4 -25.9,30.1 -28,29.2 -29.8,27.6 -31.5,25.5 -33,22.9 -34.2,19.7 -35.1,16.1 -35.8,12.2 -36.2,7.9 Z" fill="#fff" stroke="#000" stroke-width="1.6" stroke-linejoin="round" /><path d="M-35.1,2.7 -34.9,-1.7 -34.4,-6.1 -33.6,-10.5 -32.5,-14.9 -31.2,-19.1 -29.8,-23.1 -28.1,-26.7 -26.3,-30.1 -24.3,-33 -22.2,-35.5 46.8,-103.8 49.2,-105.9 51.6,-107.3 53.9,-107.7 56.1,-107.3 58.1,-105.9 60,-103.8 61.7,-100.8 63.1,-97 64.3,-92.5 65.2,-87.4 65.7,-81.8 66,-75.7 66,-69.2 65.6,-62.6 65,-55.8 64,-49 62.8,-42.4 61.3,-35.9 59.5,-29.9 57.6,-24.2 55.5,-19.1 53.3,-14.6 51,-10.8 48.6,-7.8 46.2,-5.7 43.8,-4.3 -19.6,26.6 -21.7,27.5 -23.8,27.8 -25.8,27.5 -27.6,26.6 -29.4,25.2 -30.9,23.3 -32.2,20.8 -33.3,17.9 -34.2,14.5 -34.8,10.8 -35.1,6.9 Z" fill="none" stroke="#000" stroke-width="1.3" stroke-linejoin="round" /><path d="M-25,0.1 -24.9,-2.3 -24.7,-4.9 -24.4,-7.5 -23.9,-10.1 -23.4,-12.7 -22.7,-15.2 -21.9,-17.5 -21.1,-19.7 -20.2,-21.6 -19.3,-23.4 -18.3,-24.8 -17.4,-26 -16.4,-26.8 -15.4,-27.3 -14.5,-27.5 -13.6,-27.3 -6.1,-25.3 -5.3,-24.8 -4.6,-24 -4,-22.8 -3.4,-21.4 -3,-19.6 -2.7,-17.7 -2.5,-15.5 -2.5,-13.2 -2.6,-10.7 -2.8,-8.1 -3.1,-5.5 -3.6,-2.9 -4.1,-0.3 -4.8,2.1 -5.5,4.5 -6.4,6.7 -7.3,8.6 -8.2,10.4 -9.2,11.8 -10.1,13 -11.1,13.8 -12.1,14.3 -13,14.5 -13.9,14.3 -21.4,12.3 -22.2,11.8 -22.9,11 -23.5,9.8 -24.1,8.4 -24.5,6.6 -24.8,4.7 -24.9,2.5 Z" fill="#fff" stroke="#000" stroke-width="1.9" stroke-linejoin="round" /><ellipse cx="-17.5" cy="-7.5" rx="20.1" ry="6.8" transform="rotate(99.7 -17.5 -7.5)" fill="#fff" stroke="#000" stroke-width="1.9" /><path d="M-25.8,8.2 -25.8,4.4 -25.5,0.5 -24.9,-3.5 -24.2,-7.5 -23.2,-11.4 -22,-15.2 -20.6,-18.8 -19,-22.1 -17.3,-25.1 -15.5,-27.7 -13.6,-29.9 55.2,-98 57.5,-100 59.6,-101.3 61.7,-101.7 63.7,-101.3 65.5,-100 67.2,-98 68.7,-95.2 69.9,-91.7 70.9,-87.5 71.7,-82.7 72.1,-77.5 72.3,-71.8 72.2,-65.8 71.8,-59.5 71.1,-53.2 70.2,-46.9 69,-40.6 67.5,-34.6 65.9,-28.9 64.1,-23.7 62.2,-18.9 60.1,-14.7 57.9,-11.2 55.8,-8.4 53.5,-6.3 51.4,-5.1 -12.2,26 -14.1,26.7 -16,27 -17.8,26.7 -19.4,26 -20.9,24.7 -22.3,22.9 -23.4,20.7 -24.4,18.1 -25.1,15.1 -25.6,11.8 Z" fill="none" stroke="#000" stroke-width="1.8" stroke-linejoin="round" /><path d="M36.2,-21.6 35.7,-24.7 35.2,-28 34.9,-31.5 34.6,-35.1 34.5,-38.8 34.5,-42.6 34.6,-46.5 34.9,-50.4 35.2,-54.4 35.7,-58.3 36.3,-62.2 37,-66.1 37.8,-69.9 38.7,-73.6 39.7,-77.1 40.7,-80.6 41.9,-83.8 43.1,-86.9 44.4,-89.7 45.7,-92.4 47.1,-94.7 48.6,-96.9 50,-98.7 51.5,-100.3 53,-101.6 54.5,-102.6 56,-103.3 57.5,-103.6 58.9,-103.7 60.4,-103.4 61.7,-102.9 63.1,-102" fill="none" stroke="#000" stroke-width="1.8" stroke-linejoin="round" /><path d="M-17.5,9.4 -17.3,4.8 -16.8,0 -16,-4.8 -14.9,-9.4 -13.6,-14 -12,-18.2 -10.3,-22.2 -8.3,-25.8 -6.2,-29 -4.1,-31.6 65.2,-100 67.7,-102.3 70.2,-103.7 72.7,-104.2 75.1,-103.7 78.3,-102.8 80.5,-101.4 82.5,-99.2 84.3,-96 85.9,-92 87.2,-87.3 88.1,-82 88.8,-76 89.2,-69.7 89.2,-62.9 88.8,-55.9 88.2,-48.8 87.2,-41.7 86,-34.7 84.4,-27.9 82.6,-21.6 80.6,-15.6 78.4,-10.3 76,-5.6 73.6,-1.6 71,1.6 68.5,3.8 66,5.2 2.7,36.2 0.4,37.1 -1.8,37.4 -4,37.1 -7.2,36.2 -9.2,35.3 -11,33.7 -12.7,31.6 -14.2,29 -15.4,25.8 -16.4,22.2 -17,18.2 -17.4,14 Z" fill="#fff" stroke="#000" stroke-width="2.2" stroke-linejoin="round" /><path d="M-14.3,10.3 -14.1,5.7 -13.6,0.9 -12.8,-3.9 -11.7,-8.6 -10.4,-13.1 -8.8,-17.4 -7.1,-21.3 -5.1,-24.9 -3,-28.1 -0.9,-30.7 68.3,-99.2 70.9,-101.4 73.4,-102.8 75.9,-103.3 78.3,-102.8 80.5,-101.4 82.5,-99.2 84.3,-96 85.9,-92 87.2,-87.3 88.1,-82 88.8,-76 89.2,-69.7 89.2,-62.9 88.8,-55.9 88.2,-48.8 87.2,-41.7 86,-34.7 84.4,-27.9 82.6,-21.6 80.6,-15.6 78.4,-10.3 76,-5.6 73.6,-1.6 71,1.6 68.5,3.8 66,5.2 2.7,36.2 0.4,37.1 -1.8,37.4 -4,37.1 -6,36.2 -7.8,34.6 -9.5,32.5 -11,29.9 -12.2,26.7 -13.2,23.1 -13.8,19.1 -14.2,14.9 Z" fill="#fff" stroke="#000" stroke-width="1.6" stroke-linejoin="round" /><path d="M-13.1,9.7 -12.9,5.3 -12.3,0.9 -11.6,-3.5 -10.5,-7.9 -9.2,-12.1 -7.8,-16.1 -6.1,-19.7 -4.3,-23.1 -2.3,-26 -0.2,-28.5 68.8,-96.8 71.2,-98.9 73.6,-100.3 75.9,-100.7 78.1,-100.3 80.2,-98.9 82,-96.8 83.7,-93.8 85.1,-90 86.3,-85.5 87.2,-80.4 87.7,-74.8 88,-68.7 88,-62.2 87.6,-55.6 87,-48.8 86,-42 84.8,-35.4 83.3,-28.9 81.5,-22.9 79.6,-17.2 77.5,-12.1 75.3,-7.6 73,-3.9 70.6,-0.8 68.2,1.3 65.8,2.7 2.4,33.6 0.3,34.5 -1.8,34.8 -3.8,34.5 -5.7,33.6 -7.4,32.2 -8.9,30.3 -10.2,27.8 -11.3,24.9 -12.2,21.5 -12.8,17.9 -13.1,13.9 Z" fill="none" stroke="#000" stroke-width="1.3" stroke-linejoin="round" /><ellipse cx="61" cy="-44" rx="38.6" ry="15.7" transform="rotate(100.8 61 -44)" fill="#fff" stroke="#000" stroke-width="1.8" /><ellipse cx="69.5" cy="-41.5" rx="13.2" ry="6.6" transform="rotate(101.7 69.5 -41.5)" fill="#fff" stroke="#000" stroke-width="1.9" /><ellipse cx="70" cy="-41" rx="10.2" ry="4.5" transform="rotate(104 70 -41)" fill="#111" stroke="#000" stroke-width="1.4" /><ellipse cx="3" cy="0.8" rx="32.9" ry="13.6" transform="rotate(99.5 3 0.8)" fill="#fff" stroke="#000" stroke-width="1.7" /><path d="M17.3,10.2 14.8,2.1 13.2,2.3 12.4,10.7 Z" fill="#000" stroke="#000" stroke-width="0.6" stroke-linejoin="round" /><path d="M12,24.2 14.8,2.4 13.2,2 7.1,23.2 Z" fill="#000" stroke="#000" stroke-width="0.6" stroke-linejoin="round" /><path d="M5.2,32.7 14.7,2.5 13.3,1.9 0.5,30.9 Z" fill="#000" stroke="#000" stroke-width="0.6" stroke-linejoin="round" /><path d="M-1.7,34 14.7,2.6 13.3,1.8 -6,31.5 Z" fill="#000" stroke="#000" stroke-width="0.6" stroke-linejoin="round" /><path d="M-7.2,28.1 14.6,2.8 13.4,1.6 -10.8,24.7 Z" fill="#000" stroke="#000" stroke-width="0.6" stroke-linejoin="round" /><path d="M-10.3,16.5 14.3,2.9 13.7,1.5 -12.5,11.9 Z" fill="#000" stroke="#000" stroke-width="0.6" stroke-linejoin="round" /><path d="M-10.8,1.4 13.9,3 14.1,1.4 -10.2,-3.6 Z" fill="#000" stroke="#000" stroke-width="0.6" stroke-linejoin="round" /><path d="M-8.1,-14.1 13.5,2.8 14.5,1.6 -4.8,-17.8 Z" fill="#000" stroke="#000" stroke-width="0.6" stroke-linejoin="round" /><path d="M-2.6,-25.9 13.3,2.6 14.7,1.8 1.9,-28.1 Z" fill="#000" stroke="#000" stroke-width="0.6" stroke-linejoin="round" /><path d="M4.2,-31.1 13.2,2.4 14.8,2 9.1,-32.2 Z" fill="#000" stroke="#000" stroke-width="0.6" stroke-linejoin="round" /><path d="M10.2,-28.8 13.2,2.2 14.8,2.2 15.2,-29 Z" fill="#000" stroke="#000" stroke-width="0.6" stroke-linejoin="round" /><path d="M14.1,-19.6 13.2,2.1 14.8,2.3 19.1,-19 Z" fill="#000" stroke="#000" stroke-width="0.6" stroke-linejoin="round" /><path d="M15.1,-6.2 13.3,1.9 14.7,2.5 19.6,-4.1 Z" fill="#000" stroke="#000" stroke-width="0.6" stroke-linejoin="round" /><ellipse cx="14" cy="2.2" rx="16.2" ry="7" transform="rotate(100.9 14 2.2)" fill="#fff" stroke="#000" stroke-width="1.9" /><ellipse cx="14.5" cy="2.4" rx="10.1" ry="4.2" transform="rotate(100.3 14.5 2.4)" fill="#fff" stroke="#000" stroke-width="1.4" /></g><line x1="258" y1="341.9" x2="303.5" y2="354.6" stroke="#666" stroke-width="1.2" stroke-dasharray="7 5"/><path d="M370.7,377.2 370.8,375.9 370.9,374.4 371.1,373 371.4,371.6 371.7,370.1 372.1,368.8 372.7,367.5 373.2,366.3 373.8,365.2 374.5,364.3 375.1,363.5 375.8,362.8 376.5,362.4 377.2,362.1 377.9,362 378.5,362.1 522.5,400.6 523.1,400.9 523.6,401.3 524.1,402 524.5,402.8 524.8,403.7 525.1,404.8 525.2,406 525.3,407.3 525.2,408.6 525.1,410.1 524.9,411.5 524.6,412.9 524.3,414.4 523.9,415.7 523.3,417 522.8,418.2 522.2,419.3 521.5,420.2 520.9,421 520.2,421.7 519.5,422.1 518.8,422.4 518.1,422.5 517.5,422.4 373.5,383.9 372.9,383.6 372.4,383.2 371.9,382.5 371.5,381.7 371.2,380.8 370.9,379.7 370.8,378.5 Z" fill="#fff" stroke="#000" stroke-width="2.2" stroke-linejoin="round" /><use href="#ru0" x="539.5" y="422.6"/><use href="#ru" x="595.9" y="437.5"/><use href="#ru" x="652.3" y="452.4"/><use href="#ru" x="708.7" y="467.3"/><use href="#ru" x="765.1" y="482.2"/><use href="#ru" x="821.5" y="497.1"/><use href="#ru" x="877.9" y="512"/><use href="#ru" x="934.3" y="526.9"/><use href="#ru" x="990.7" y="541.8"/><path d="M1000,554.9 1000.1,552.3 1000.4,549.6 1000.9,546.9 1001.5,544.3 1002.4,541.7 1003.4,539.3 1004.6,537.1 1005.9,535 1007.3,533.3 1008.8,531.8 1010.3,530.6 1011.9,529.7 1013.5,529.2 1015,529 1016.5,529.2 1034.5,533.6 1035.9,534.1 1037.2,535 1038.4,536.2 1039.5,537.7 1040.3,539.4 1041,541.5 1041.6,543.7 1041.9,546.1 1042,548.7 1041.9,551.3 1041.6,554 1041.1,556.7 1040.5,559.3 1039.6,561.9 1038.6,564.3 1037.4,566.5 1036.1,568.6 1034.7,570.3 1033.2,571.8 1031.7,573 1030.1,573.9 1028.5,574.4 1027,574.6 1025.5,574.4 1007.5,570 1006.1,569.5 1004.8,568.6 1003.6,567.4 1002.5,565.9 1001.7,564.2 1001,562.1 1000.4,559.9 1000.1,557.5 Z" fill="#fff" stroke="#000" stroke-width="2.2" stroke-linejoin="round" /><ellipse cx="1012" cy="549.6" rx="20.9" ry="11.4" transform="rotate(101.9 1012 549.6)" fill="#fff" stroke="#000" stroke-width="2.2" /><ellipse cx="1014" cy="550.5" rx="16.3" ry="8.5" transform="rotate(102.3 1014 550.5)" fill="#fff" stroke="#000" stroke-width="1.4" /><path d="M1014,554.8 1014,553.3 1014.2,551.7 1014.4,550.1 1014.8,548.6 1015.2,547.1 1015.7,545.7 1016.3,544.4 1017,543.2 1017.6,542.2 1018.4,541.3 1019.2,540.6 1020,540.1 1020.7,539.8 1021.5,539.7 1022.2,539.8 1054.2,548.1 1055,548.4 1055.6,548.9 1056.2,549.6 1056.7,550.5 1057.2,551.5 1057.5,552.7 1057.8,554 1057.9,555.4 1058,556.9 1058,558.4 1057.8,560 1057.6,561.6 1057.2,563.1 1056.8,564.6 1056.3,566 1055.7,567.3 1055,568.5 1054.3,569.5 1053.6,570.4 1052.8,571.1 1052,571.6 1051.3,571.9 1050.5,572 1049.8,571.9 1017.8,563.6 1017,563.3 1016.4,562.8 1015.8,562.1 1015.3,561.2 1014.8,560.2 1014.5,559 1014.2,557.7 1014.1,556.3 Z" fill="#fff" stroke="#000" stroke-width="1.9" stroke-linejoin="round" /><ellipse cx="1020" cy="551.7" rx="12.1" ry="5.8" transform="rotate(99.2 1020 551.7)" fill="#fff" stroke="#000" stroke-width="1.7" /><path d="M1028.5,584.5 1028.6,583.3 1028.8,582 1029.2,580.9 1029.6,579.8 1030.3,578.7 1031,577.8 1031.8,577 1032.8,576.3 1033.8,575.7 1034.8,575.3 1038.8,573.8 1039.9,573.6 1041,573.5 1042.1,573.6 1043.2,573.8 1044.2,574.2 1045.2,574.8 1046.2,575.5 1047,576.3 1047.7,577.2 1048.4,578.2 1048.8,579.4 1049.2,580.5 1049.4,581.8 1049.5,583 1049.4,584.2 1049.2,585.5 1048.8,586.6 1048.4,587.8 1047.7,588.8 1047,589.7 1046.2,590.5 1045.2,591.2 1044.2,591.8 1043.2,592.2 1039.2,593.7 1038.1,593.9 1037,594 1035.9,593.9 1034.8,593.7 1033.8,593.3 1032.8,592.7 1031.8,592 1031,591.2 1030.3,590.3 1029.6,589.2 1029.2,588.1 1028.8,587 1028.6,585.7 Z" fill="#fff" stroke="#000" stroke-width="1.9" stroke-linejoin="round" /><ellipse cx="1037" cy="584.5" rx="8.5" ry="9.5" transform="rotate(0 1037 584.5)" fill="#fff" stroke="#000" stroke-width="3.1" /><ellipse cx="1037" cy="584.5" rx="4" ry="4.5" transform="rotate(0 1037 584.5)" fill="#fff" stroke="#000" stroke-width="1.7" /><path d="M1011.9,522.2 1060.6,462.5 1107.7,478.5 1050.5,532.3 Z" fill="#fff" stroke="#000" stroke-width="2.2" stroke-linejoin="round" /><line x1="1012" y1="524.5" x2="1050.5" y2="535" stroke="#000" stroke-width="1.4" /><ellipse cx="1069.9" cy="485.2" rx="7" ry="3.8" transform="rotate(0 1069.9 485.2)" fill="#fff" stroke="#000" stroke-width="1.8" /><path d="M1064.9,486 1064.9,485.8 1065,485.6 1065.1,485.4 1065.3,485.2 1065.5,485 1065.7,484.8 1066,484.6 1066.4,484.4 1066.7,484.3 1067.1,484.2 1067.5,484.1 1068,484 1068.4,483.9 1068.9,483.8 1069.4,483.8 1069.9,483.8 1070.4,483.8 1070.9,483.8 1071.4,483.9 1071.8,484 1072.3,484.1 1072.7,484.2 1073.1,484.3 1073.4,484.4 1073.8,484.6 1074.1,484.8 1074.3,485 1074.5,485.2 1074.7,485.4 1074.8,485.6 1074.9,485.8 1074.9,486" fill="none" stroke="#000" stroke-width="1.3" stroke-linejoin="round" /><ellipse cx="1042.1" cy="513" rx="7" ry="3.8" transform="rotate(0 1042.1 513)" fill="#fff" stroke="#000" stroke-width="1.8" /><path d="M1037.1,513.8 1037.1,513.6 1037.2,513.4 1037.3,513.2 1037.5,513 1037.7,512.8 1037.9,512.6 1038.2,512.4 1038.6,512.2 1038.9,512.1 1039.3,512 1039.7,511.9 1040.2,511.8 1040.6,511.7 1041.1,511.6 1041.6,511.6 1042.1,511.6 1042.6,511.6 1043.1,511.6 1043.6,511.7 1044,511.8 1044.5,511.9 1044.9,512 1045.3,512.1 1045.6,512.2 1046,512.4 1046.3,512.6 1046.5,512.8 1046.7,513 1046.9,513.2 1047,513.4 1047.1,513.6 1047.1,513.8" fill="none" stroke="#000" stroke-width="1.3" stroke-linejoin="round" /><path d="M1050.5,532.3 1107.7,478.5 1110.2,484 1110.2,590.3 1053,645.8 1050.5,643 Z" fill="#fff" stroke="#000" stroke-width="2.2" stroke-linejoin="round" /><line x1="1053.9" y1="536" x2="1053.9" y2="645" stroke="#000" stroke-width="1.3" /><path d="M1088.8,523 1088.8,522.6 1088.9,522.2 1089,521.8 1089.2,521.4 1089.5,521 1097.5,511.1 1097.7,510.7 1098,510.5 1098.4,510.2 1098.8,510 1099.2,509.9 1099.6,509.8 1100,509.8 1100.4,509.8 1100.8,509.9 1101.2,510 1101.6,510.2 1102,510.5 1102.3,510.7 1102.5,511.1 1102.8,511.4 1103,511.8 1103.1,512.2 1103.2,512.6 1103.2,513 1103.2,513.4 1103.1,513.8 1103,514.2 1102.8,514.6 1102.5,515 1094.5,525 1094.3,525.3 1094,525.5 1093.6,525.8 1093.2,526 1092.8,526.1 1092.4,526.2 1092,526.2 1091.6,526.2 1091.2,526.1 1090.8,526 1090.4,525.8 1090,525.5 1089.7,525.3 1089.5,525 1089.2,524.6 1089,524.2 1088.9,523.8 1088.8,523.4 Z" fill="#fff" stroke="#000" stroke-width="1.8" stroke-linejoin="round" /><line x1="1092.6" y1="522" x2="1099.4" y2="514" stroke="#000" stroke-width="1.2" /><path d="M1061,550.8 1061,550.4 1061.1,550 1061.2,549.6 1061.4,549.2 1061.7,548.9 1069.7,538.9 1069.9,538.5 1070.2,538.3 1070.6,538 1071,537.8 1071.4,537.7 1071.8,537.6 1072.2,537.6 1072.6,537.6 1073,537.7 1073.4,537.8 1073.8,538 1074.2,538.3 1074.5,538.5 1074.7,538.9 1075,539.2 1075.2,539.6 1075.3,540 1075.4,540.4 1075.4,540.8 1075.4,541.2 1075.3,541.6 1075.2,542 1075,542.4 1074.7,542.8 1066.7,552.8 1066.5,553.1 1066.2,553.3 1065.8,553.6 1065.4,553.8 1065,553.9 1064.6,554 1064.2,554 1063.8,554 1063.4,553.9 1063,553.8 1062.6,553.6 1062.2,553.3 1061.9,553.1 1061.7,552.8 1061.4,552.4 1061.2,552 1061.1,551.6 1061,551.2 Z" fill="#fff" stroke="#000" stroke-width="1.8" stroke-linejoin="round" /><line x1="1064.8" y1="549.8" x2="1071.6" y2="541.8" stroke="#000" stroke-width="1.2" /><path d="M1088.8,592 1088.8,591.6 1088.9,591.2 1089,590.8 1089.2,590.4 1089.5,590 1097.5,580 1097.7,579.7 1098,579.5 1098.4,579.2 1098.8,579 1099.2,578.9 1099.6,578.8 1100,578.8 1100.4,578.8 1100.8,578.9 1101.2,579 1101.6,579.2 1102,579.5 1102.3,579.7 1102.5,580 1102.8,580.4 1103,580.8 1103.1,581.2 1103.2,581.6 1103.2,582 1103.2,582.4 1103.1,582.8 1103,583.2 1102.8,583.6 1102.5,584 1094.5,594 1094.3,594.3 1094,594.5 1093.6,594.8 1093.2,595 1092.8,595.1 1092.4,595.2 1092,595.2 1091.6,595.2 1091.2,595.1 1090.8,595 1090.4,594.8 1090,594.5 1089.7,594.3 1089.5,594 1089.2,593.6 1089,593.2 1088.9,592.8 1088.8,592.4 Z" fill="#fff" stroke="#000" stroke-width="1.8" stroke-linejoin="round" /><line x1="1092.6" y1="591" x2="1099.4" y2="583" stroke="#000" stroke-width="1.2" /><path d="M1061,619.7 1061,619.3 1061.1,618.9 1061.2,618.5 1061.4,618.1 1061.7,617.8 1069.7,607.8 1069.9,607.4 1070.2,607.2 1070.6,606.9 1071,606.7 1071.4,606.6 1071.8,606.5 1072.2,606.5 1072.6,606.5 1073,606.6 1073.4,606.7 1073.8,606.9 1074.2,607.2 1074.5,607.4 1074.7,607.8 1075,608.1 1075.2,608.5 1075.3,608.9 1075.4,609.3 1075.4,609.7 1075.4,610.1 1075.3,610.5 1075.2,610.9 1075,611.3 1074.7,611.6 1066.7,621.6 1066.5,622 1066.2,622.2 1065.8,622.5 1065.4,622.7 1065,622.8 1064.6,622.9 1064.2,622.9 1063.8,622.9 1063.4,622.8 1063,622.7 1062.6,622.5 1062.2,622.2 1061.9,622 1061.7,621.6 1061.4,621.3 1061.2,620.9 1061.1,620.5 1061,620.1 Z" fill="#fff" stroke="#000" stroke-width="1.8" stroke-linejoin="round" /><line x1="1064.8" y1="618.7" x2="1071.6" y2="610.7" stroke="#000" stroke-width="1.2" /><ellipse cx="1082.5" cy="566.8" rx="20.1" ry="9.2" transform="rotate(97.2 1082.5 566.8)" fill="#fff" stroke="#000" stroke-width="1.9" /><ellipse cx="1082.5" cy="566.8" rx="16.1" ry="7.2" transform="rotate(98 1082.5 566.8)" fill="#fff" stroke="#000" stroke-width="3.8" /><ellipse cx="1083" cy="567" rx="11.1" ry="4.6" transform="rotate(97.5 1083 567)" fill="#fff" stroke="#000" stroke-width="1.4" /><line x1="270.6" y1="760.9" x2="303.7" y2="773.7" stroke="#888" stroke-width="1.3" stroke-dasharray="8 6"/><line x1="492.4" y1="764.1" x2="600" y2="806" stroke="#888" stroke-width="1.3" stroke-dasharray="8 6"/><line x1="613.3" y1="814" x2="671.7" y2="836.6" stroke="#888" stroke-width="1.3" stroke-dasharray="8 6"/><line x1="836.9" y1="903.3" x2="900" y2="925" stroke="#888" stroke-width="1.3" stroke-dasharray="8 6"/><line x1="775.8" y1="964.4" x2="805" y2="975" stroke="#888" stroke-width="1.3" stroke-dasharray="8 6"/><line x1="841" y1="905.8" x2="902.3" y2="927.7" stroke="#888" stroke-width="1.3" stroke-dasharray="8 6"/><path d="M377,707.5 L522.9,656.6  C526.2,657.1 537.3,657.1 542.8,659.9 C548.3,662.7 552.9,667.7 556.1,673.2 C559.3,678.7 561.3,685.4 562.1,693.1 C562.9,700.8 562.5,710.8 560.8,719.6 C559.1,728.5 555.8,739.1 552.1,746.2 C548.5,753.3 544.2,757.5 538.9,762.1 C533.6,766.8 526.1,769.9 520.3,774.1 C514.5,778.3 507,785.1 504.3,787.3 L384,872.8 L330,800 Z" fill="#fff" stroke="none"/><path d="M377,707.5 L522.9,656.6  C526.2,657.1 537.3,657.1 542.8,659.9 C548.3,662.7 552.9,667.7 556.1,673.2 C559.3,678.7 561.3,685.4 562.1,693.1 C562.9,700.8 562.5,710.8 560.8,719.6 C559.1,728.5 555.8,739.1 552.1,746.2 C548.5,753.3 544.2,757.5 538.9,762.1 C533.6,766.8 526.1,769.9 520.3,774.1 C514.5,778.3 507,785.1 504.3,787.3 L384,872.8" fill="none" stroke="#000" stroke-width="1.8" stroke-linejoin="round"/><line x1="377" y1="713.5" x2="531" y2="659.5" stroke="#000" stroke-width="1.8" /><path d="M495.5,730.2 495.6,726.1 496.1,722 496.9,717.9 498.1,713.8 499.6,709.9 501.4,706.2 503.4,702.8 505.8,699.7 508.2,696.9 510.9,694.6 513.6,692.8 516.4,691.5 519.2,690.7 522,690.4 524.7,690.7 538.9,694.7 541.4,695.5 543.8,696.8 546,698.6 547.9,700.9 549.5,703.7 550.8,706.8 551.8,710.2 552.4,713.9 552.7,717.8 552.6,721.9 552.1,726 551.3,730.1 550.1,734.2 548.6,738.1 546.8,741.8 544.8,745.2 542.5,748.3 540,751.1 537.3,753.4 534.6,755.2 531.8,756.5 529,757.3 526.2,757.6 523.5,757.3 509.3,753.3 506.8,752.5 504.4,751.2 502.2,749.4 500.3,747.1 498.7,744.3 497.4,741.2 496.4,737.8 495.8,734.1 Z" fill="#fff" stroke="#000" stroke-width="2.2" stroke-linejoin="round" /><ellipse cx="531.2" cy="726" rx="32.3" ry="20.5" transform="rotate(105.3 531.2 726)" fill="#fff" stroke="#000" stroke-width="2.2" /><ellipse cx="530.2" cy="727" rx="19.5" ry="13.7" transform="rotate(101.8 530.2 727)" fill="#fff" stroke="#000" stroke-width="2.2" /><ellipse cx="534.5" cy="705" rx="2.5" ry="2" transform="rotate(0 534.5 705)" fill="#fff" stroke="#000" stroke-width="1.4" /><ellipse cx="531" cy="749" rx="2" ry="2.5" transform="rotate(0 531 749)" fill="#fff" stroke="#000" stroke-width="1.4" /><path d="M481,739 501,731.5 502.5,736.5 483,744 Z" fill="#fff" stroke="#000" stroke-width="1.6" stroke-linejoin="round" /><ellipse cx="459" cy="752" rx="21.3" ry="10.5" transform="rotate(108.3 459 752)" fill="#fff" stroke="#000" stroke-width="2.2" /><path d="M455,759.5 455,757.7 455.2,755.9 455.5,754 456,752.1 456.6,750.3 457.3,748.5 458.1,746.9 459.1,745.3 460.1,743.9 461.2,742.7 462.4,741.6 463.5,740.8 464.7,740.2 465.9,739.8 467,739.7 477.8,740.9 478.9,741 479.9,741.4 480.8,742 481.6,742.8 482.4,743.9 482.9,745.1 483.4,746.5 483.6,748 483.8,749.7 483.8,751.5 483.6,753.3 483.3,755.2 482.8,757.1 482.2,758.9 481.5,760.7 480.6,762.4 479.7,763.9 478.7,765.3 477.6,766.5 476.4,767.6 475.3,768.4 474.1,769 472.9,769.4 471.8,769.5 461,768.3 459.9,768.2 458.9,767.8 458,767.2 457.2,766.4 456.4,765.3 455.9,764.1 455.4,762.7 455.1,761.1 Z" fill="#fff" stroke="#000" stroke-width="2" stroke-linejoin="round" /><ellipse cx="474.8" cy="755.2" rx="14.8" ry="8.2" transform="rotate(107.4 474.8 755.2)" fill="#fff" stroke="#000" stroke-width="2" /><ellipse cx="476" cy="756" rx="9.3" ry="5" transform="rotate(107.7 476 756)" fill="#fff" stroke="#000" stroke-width="1.8" /><ellipse cx="475.5" cy="757" rx="5.1" ry="2.5" transform="rotate(105.1 475.5 757)" fill="#fff" stroke="#000" stroke-width="1.6" /><path d="M342.3,708 347.4,697.6 351.4,696.1 361.6,696.1 366.7,706.5 361.6,716.9 357.6,718.4 347.4,718.4 Z" fill="#fff" stroke="#000" stroke-width="1.9" stroke-linejoin="round" /><path d="M366.7,706.5 361.6,716.9 351.4,716.9 346.3,706.5 351.4,696.1 361.6,696.1 Z" fill="#fff" stroke="#000" stroke-width="1.9" stroke-linejoin="round" /><ellipse cx="360" cy="707.5" rx="6.8" ry="4.5" transform="rotate(114.3 360 707.5)" fill="#fff" stroke="#000" stroke-width="1.8" /><ellipse cx="367.5" cy="802" rx="100.8" ry="59.1" transform="rotate(120.2 367.5 802)" fill="#fff" stroke="#000" stroke-width="2.6" /><ellipse cx="369" cy="801.5" rx="96.2" ry="55.8" transform="rotate(119.7 369 801.5)" fill="#fff" stroke="#000" stroke-width="1.8" /><ellipse cx="371" cy="801" rx="89" ry="51.4" transform="rotate(118.5 371 801)" fill="#fff" stroke="#000" stroke-width="1.8" /><ellipse cx="372" cy="801" rx="85.7" ry="49.3" transform="rotate(118.3 372 801)" fill="#fff" stroke="#000" stroke-width="1.6" /><ellipse cx="371.5" cy="800.5" rx="65.2" ry="35.4" transform="rotate(116.9 371.5 800.5)" fill="#fff" stroke="#000" stroke-width="1.9" /><path d="M346,811.8 346.3,809 346.8,806 347.6,803 348.6,800 349.9,797 351.4,794.2 353,791.5 354.9,789 356.8,786.7 358.8,784.8 360.9,783.1 367.9,777.6 370,776.2 372,775.3 374.1,774.7 376,774.5 377.8,774.7 379.5,775.3 381,776.2 382.3,777.6 383.3,779.2 384.1,781.2 384.7,783.5 385,786 385,788.7 384.7,791.5 384.2,794.5 383.4,797.5 382.4,800.5 381.1,803.5 379.6,806.3 378,809 376.1,811.5 374.2,813.8 372.2,815.8 370.1,817.4 363.1,822.9 361,824.2 359,825.2 356.9,825.8 355,826 353.2,825.8 351.5,825.2 350,824.2 348.7,822.9 347.7,821.2 346.9,819.3 346.3,817 346,814.5 Z" fill="#fff" stroke="#000" stroke-width="2" stroke-linejoin="round" /><ellipse cx="369" cy="797.5" rx="24.6" ry="13.5" transform="rotate(114.9 369 797.5)" fill="#fff" stroke="#000" stroke-width="2" /><ellipse cx="370.5" cy="799" rx="17.2" ry="9.6" transform="rotate(116.1 370.5 799)" fill="#fff" stroke="#000" stroke-width="1.9" /><ellipse cx="370" cy="800" rx="12.8" ry="7.3" transform="rotate(114.7 370 800)" fill="#fff" stroke="#000" stroke-width="1.7" /><ellipse cx="366.4" cy="800.5" rx="5.8" ry="3.5" transform="rotate(114.6 366.4 800.5)" fill="#fff" stroke="#000" stroke-width="1.7" /><line x1="384.9" y1="807" x2="430" y2="825" stroke="#888" stroke-width="1.3" stroke-dasharray="8 6"/><path d="M238,757.4 238.1,755.5 238.5,753.6 239.1,751.7 240,749.9 241,748.1 242.2,746.5 243.6,745.1 245.2,743.8 246.8,742.8 248.6,741.9 250.3,741.3 254.3,740.3 256.2,739.9 258,739.8 259.8,739.9 261.5,740.3 263.1,740.9 264.7,741.8 266,742.8 267.2,744.1 268.2,745.5 269,747.1 269.6,748.9 269.9,750.7 270,752.6 269.9,754.5 269.5,756.4 268.9,758.3 268,760.1 267,761.9 265.8,763.5 264.4,764.9 262.9,766.2 261.2,767.2 259.4,768.1 257.6,768.7 253.7,769.7 251.8,770.1 250,770.2 248.2,770.1 246.5,769.7 244.8,769.1 243.3,768.2 242,767.2 240.8,765.9 239.8,764.5 239,762.9 238.4,761.1 238.1,759.3 Z" fill="#fff" stroke="#000" stroke-width="2.2" stroke-linejoin="round" /><path d="M269.8,754.5 262.9,767.1 249.1,767.1 242.2,754.5 249.1,741.9 262.9,741.9 Z" fill="#fff" stroke="#000" stroke-width="1.9" stroke-linejoin="round" /><ellipse cx="259.3" cy="757.1" rx="8.9" ry="5.4" transform="rotate(111.6 259.3 757.1)" fill="#fff" stroke="#000" stroke-width="1.9" /><ellipse cx="259.3" cy="757.1" rx="5.6" ry="3.3" transform="rotate(105.7 259.3 757.1)" fill="#fff" stroke="#000" stroke-width="1.4" /><path d="M433,835.2 433.1,833.5 433.4,831.8 433.8,830 434.4,828.2 435.2,826.5 436.1,824.8 437.1,823.2 438.2,821.7 439.4,820.4 440.6,819.2 441.9,818.2 443.2,817.4 444.5,816.9 445.8,816.5 447,816.4 448.2,816.5 449.2,816.9 481.1,829.4 482.1,829.9 482.9,830.7 483.6,831.7 484.2,832.9 484.6,834.2 484.8,835.7 484.9,837.3 484.8,839 484.5,840.7 484.1,842.5 483.5,844.3 482.7,846 481.8,847.7 480.8,849.3 479.7,850.8 478.6,852.1 477.3,853.3 476,854.3 474.7,855.1 473.4,855.6 472.1,856 470.9,856.1 469.7,856 468.7,855.6 436.8,843.1 435.8,842.6 434.9,841.8 434.2,840.8 433.7,839.6 433.3,838.3 433.1,836.8 Z" fill="#fff" stroke="#000" stroke-width="2.2" stroke-linejoin="round" /><ellipse cx="474.9" cy="842.5" rx="14.5" ry="8.6" transform="rotate(116 474.9 842.5)" fill="#fff" stroke="#000" stroke-width="2.2" /><ellipse cx="476" cy="843.5" rx="8.4" ry="4.9" transform="rotate(111.7 476 843.5)" fill="#fff" stroke="#000" stroke-width="1.8" /><ellipse cx="533.5" cy="867" rx="87.2" ry="47.6" transform="rotate(117.6 533.5 867)" fill="#fff" stroke="#000" stroke-width="2.3" /><path d="M475.2,907.1 475.4,897.7 476.6,887.8 478.8,877.5 481.9,867 485.9,856.5 490.7,846.2 496.3,836.3 502.5,826.9 509.2,818.1 516.3,810.2 523.8,803.3 531.3,797.5 539,792.8 546.5,789.4 553.8,787.4 560.8,786.7 567.3,787.4 573.2,789.4 599.2,799.4 604.5,802.8 608.9,807.5 612.6,813.3 615.3,820.2 617.1,828.1 617.8,836.9 617.6,846.3 616.4,856.2 614.2,866.5 611.1,877 607.1,887.5 602.3,897.8 596.7,907.7 590.5,917.1 583.8,925.9 576.7,933.8 569.2,940.7 561.7,946.5 554,951.2 546.5,954.6 539.2,956.6 532.2,957.3 525.7,956.6 519.8,954.6 493.8,944.6 488.5,941.2 484.1,936.5 480.4,930.7 477.7,923.8 475.9,915.9 Z" fill="#fff" stroke="#000" stroke-width="2.3" stroke-linejoin="round" /><path d="M484.4,909.9 484.1,905.2 484,900.3 484.3,895.2 484.9,890 485.7,884.6 486.9,879.1 488.3,873.6 490,868 492,862.4 494.2,856.9 496.6,851.4 499.3,846 502.2,840.8 505.3,835.7 508.5,830.8 511.9,826.1 515.4,821.7 519.1,817.5 522.8,813.6 526.6,810.1 530.5,806.9 534.4,804 538.3,801.5 542.2,799.4 546,797.7 549.8,796.4 553.4,795.5 557,795.1 560.5,795 563.8,795.4 566.9,796.3 569.8,797.5" fill="none" stroke="#000" stroke-width="1.8" stroke-linejoin="round" /><path d="M496.1,907.2 496.4,902.6 497,897.9 497.8,893 498.8,888.1 500,883.2 501.4,878.2 503.1,873.2 504.9,868.2 507,863.2 509.2,858.3 511.6,853.4 514.2,848.6 517,843.9 519.9,839.4 522.9,834.9 526,830.7 529.3,826.6 532.7,822.7 536.1,819 539.6,815.5 543.2,812.3 546.8,809.4 550.4,806.6 554,804.2 557.7,802.1 561.3,800.2 564.8,798.6 568.4,797.4 571.8,796.5 575.2,795.8 578.5,795.5 581.7,795.5" fill="none" stroke="#000" stroke-width="3.1" stroke-linejoin="round" /><ellipse cx="559.5" cy="877" rx="87.2" ry="47.6" transform="rotate(117.6 559.5 877)" fill="#fff" stroke="#000" stroke-width="2.3" /><ellipse cx="559" cy="877" rx="74" ry="40" transform="rotate(117.1 559 877)" fill="#fff" stroke="#000" stroke-width="1.9" /><ellipse cx="554" cy="874" rx="61.5" ry="32.6" transform="rotate(116.4 554 874)" fill="#fff" stroke="#000" stroke-width="1.8" /><path d="M534,880 534.2,877 534.8,874 535.5,871 536.6,868 537.9,865.2 539.4,862.5 541.1,860 543,857.7 545.1,855.8 547.2,854.1 549.4,852.8 551.6,851.8 553.8,851.2 556,851 558.1,851.2 560,851.8 566,854.8 567.8,855.8 569.5,857.1 570.9,858.8 572,860.7 572.9,863 573.6,865.5 573.9,868.2 574,871 573.8,874 573.2,877 572.5,880 571.4,883 570.1,885.8 568.6,888.5 566.9,891 565,893.3 562.9,895.2 560.8,896.9 558.6,898.2 556.4,899.2 554.2,899.8 552,900 549.9,899.8 548,899.2 542,896.2 540.2,895.2 538.5,893.9 537.1,892.2 536,890.3 535.1,888 534.4,885.5 534.1,882.8 Z" fill="#fff" stroke="#000" stroke-width="2" stroke-linejoin="round" /><ellipse cx="557" cy="877" rx="24" ry="15.6" transform="rotate(111.9 557 877)" fill="#fff" stroke="#000" stroke-width="2" /><ellipse cx="559.5" cy="878" rx="19.7" ry="11.9" transform="rotate(109.2 559.5 878)" fill="#fff" stroke="#000" stroke-width="1.9" /><ellipse cx="560" cy="878.5" rx="16" ry="9.8" transform="rotate(107.8 560 878.5)" fill="#fff" stroke="#000" stroke-width="1.7" /><line x1="562.9" y1="876.4" x2="618.6" y2="900.3" stroke="#888" stroke-width="1.3" stroke-dasharray="8 6"/><path d="M682.9,832 L836.9,783.9 C840,784.1 850.2,782.6 855.5,785.2 C860.8,787.9 865.4,793.8 868.7,799.8 C872,805.8 874.7,813 875.4,821 C876.1,829 875.6,838.3 872.7,847.6 C869.8,856.9 862.8,869.3 858.1,876.8 C853.5,884.3 847,890.1 844.8,892.7 L692.2,1001.6 C686,1006.2 665.9,1018.9 655,1020 C644.1,1021.1 634.5,1016.3 627,1010 C619.5,1003.7 613.6,992.7 610,982 C606.4,971.3 604.7,960.1 605.5,945.8 C606.3,931.5 609.2,910.6 615,896 C620.8,881.4 632.2,867.3 640,858 C647.8,848.7 654.9,844.3 662,840 C669.1,835.7 679.4,833.3 682.9,832 Z" fill="#fff" stroke="#000" stroke-width="2.2" stroke-linejoin="round"/><path d="M692,997 C686.2,999.3 666.8,1010.2 657,1011 C647.2,1011.8 639.5,1007.7 633,1002 C626.5,996.3 621.1,986.4 618,977 C614.9,967.6 613.7,958.6 614.5,945.8 C615.3,933 617.8,913.5 623,900 C628.2,886.5 638.8,873.8 646,865 C653.2,856.2 659.7,851.7 666,847 C672.3,842.3 681,838.7 684,837" fill="none" stroke="#000" stroke-width="1.7" stroke-linejoin="round" /><path d="M692,993 C686.3,995.2 667.2,1005.2 658,1006 C648.8,1006.8 642.9,1003.3 637,998 C631.1,992.7 625.4,982.7 622.5,974 C619.6,965.3 618.6,957.6 619.5,945.8 C620.4,934 622.9,915.8 628,903 C633.1,890.2 643,877.5 650,869 C657,860.5 663.7,856.7 670,852 C676.3,847.3 685,842.8 688,841" fill="none" stroke="#000" stroke-width="1.9" stroke-linejoin="round" /><line x1="688" y1="840" x2="840" y2="791.5" stroke="#000" stroke-width="1.8" /><line x1="684" y1="837" x2="838" y2="788" stroke="#000" stroke-width="1.6" /><path d="M840,791.5 C842.7,791.6 851.7,789.8 856,792 C860.3,794.2 863.8,800 866,805 C868.2,810 869,814.8 869,822 C869,829.2 868.7,839.5 866,848 C863.3,856.5 857.3,866.3 853,873 C848.7,879.7 842.2,885.5 840,888" fill="none" stroke="#000" stroke-width="1.8" stroke-linejoin="round" /><line x1="840" y1="888" x2="692" y2="995" stroke="#000" stroke-width="1.7" /><ellipse cx="683" cy="926.5" rx="63.4" ry="35.6" transform="rotate(116.3 683 926.5)" fill="#fff" stroke="#000" stroke-width="1.9" /><ellipse cx="696.2" cy="932.5" rx="24.3" ry="14.4" transform="rotate(117.7 696.2 932.5)" fill="#fff" stroke="#000" stroke-width="1.9" /><path d="M697,943 690.1,938 690.1,928 697,923 703.9,928 703.9,938 Z" fill="#fff" stroke="#000" stroke-width="1.7" stroke-linejoin="round" /><ellipse cx="777.2" cy="876.8" rx="19.9" ry="13.2" transform="rotate(118.5 777.2 876.8)" fill="#fff" stroke="#000" stroke-width="2.9" /><ellipse cx="779" cy="878" rx="13.8" ry="8.8" transform="rotate(116.4 779 878)" fill="#fff" stroke="#000" stroke-width="1.8" /><path d="M779,886.5 773.1,882.2 773.1,873.8 779,869.5 784.9,873.8 784.9,882.2 Z" fill="#fff" stroke="#000" stroke-width="1.6" stroke-linejoin="round" /><path d="M839.4,829.9 831.5,827.6 829.9,835.4 Z" fill="#fff" stroke="#000" stroke-width="1.4" stroke-linejoin="round" /><path d="M823.2,860.5 817.5,869.1 823.2,872.8 Z" fill="#fff" stroke="#000" stroke-width="1.4" stroke-linejoin="round" /><path d="M852.7,835.5 851,794.8 847.4,794.8 844.7,835.5 Z" fill="#fff" stroke="#000" stroke-width="1.8" stroke-linejoin="round" /><path d="M846.9,835.5 848.6,794.8 847.4,794.8 844.7,835.5 Z" fill="#000" stroke="#000" stroke-width="1" stroke-linejoin="round" /><path d="M856.6,837.7 867.7,801.6 864.3,800.4 849,835.2 Z" fill="#fff" stroke="#000" stroke-width="1.8" stroke-linejoin="round" /><path d="M851.1,835.9 865.4,800.8 864.3,800.4 849,835.2 Z" fill="#000" stroke="#000" stroke-width="1" stroke-linejoin="round" /><path d="M847.6,835.3 829.9,797.9 826.5,799.1 840,838 Z" fill="#fff" stroke="#000" stroke-width="1.8" stroke-linejoin="round" /><path d="M842.1,837.3 827.6,798.7 826.5,799.1 840,838 Z" fill="#000" stroke="#000" stroke-width="1" stroke-linejoin="round" /><path d="M841.9,838.1 808.4,809.7 805.8,812.1 836,843.6 Z" fill="#fff" stroke="#000" stroke-width="1.8" stroke-linejoin="round" /><path d="M837.7,842.1 806.7,811.3 805.8,812.1 836,843.6 Z" fill="#000" stroke="#000" stroke-width="1" stroke-linejoin="round" /><path d="M836,846.5 792.7,838.9 791.7,842.3 833.9,854.2 Z" fill="#fff" stroke="#000" stroke-width="1.8" stroke-linejoin="round" /><path d="M834.5,852.1 792,841.2 791.7,842.3 833.9,854.2 Z" fill="#000" stroke="#000" stroke-width="1" stroke-linejoin="round" /><path d="M834,855.5 791.8,864.9 792.6,868.5 835.5,863.3 Z" fill="#fff" stroke="#000" stroke-width="1.8" stroke-linejoin="round" /><path d="M835.1,861.2 792.3,867.3 792.6,868.5 835.5,863.3 Z" fill="#000" stroke="#000" stroke-width="1" stroke-linejoin="round" /><path d="M834.7,863.5 791.2,892.4 793.2,895.4 839.2,870.1 Z" fill="#fff" stroke="#000" stroke-width="1.8" stroke-linejoin="round" /><path d="M837.9,868.3 792.5,894.4 793.2,895.4 839.2,870.1 Z" fill="#000" stroke="#000" stroke-width="1" stroke-linejoin="round" /><path d="M836.4,868.1 805.7,902.6 808.5,905 842.4,873.3 Z" fill="#fff" stroke="#000" stroke-width="1.8" stroke-linejoin="round" /><path d="M840.8,871.9 807.6,904.2 808.5,905 842.4,873.3 Z" fill="#000" stroke="#000" stroke-width="1" stroke-linejoin="round" /><path d="M824.2,866.9 824.3,863.4 824.6,859.7 825.4,855.9 826.5,852 827.8,848.1 829.5,844.3 831.5,840.6 833.6,837.1 836,833.9 838.5,830.9 841.2,828.4 843.9,826.2 846.6,824.5 849.3,823.2 851.9,822.5 854.4,822.2 856.7,822.5 858.9,823.2 860.8,824.5 864.3,828 865.9,829.7 867.2,831.9 868.3,834.4 868.9,837.4 869.3,840.6 869.2,844.1 868.9,847.8 868.1,851.6 867,855.5 865.7,859.4 864,863.2 862,866.9 859.9,870.4 857.5,873.6 855,876.6 852.3,879.1 849.6,881.3 846.9,883 844.2,884.3 841.6,885 839.1,885.3 836.8,885 834.6,884.3 832.7,883 829.2,879.5 827.6,877.8 826.2,875.6 825.2,873.1 824.6,870.1 Z" fill="#fff" stroke="#000" stroke-width="2.3" stroke-linejoin="round" /><ellipse cx="848.5" cy="855.5" rx="32" ry="17.3" transform="rotate(115.4 848.5 855.5)" fill="#fff" stroke="#000" stroke-width="2.3" /><ellipse cx="848.3" cy="855" rx="21.1" ry="11.6" transform="rotate(120 848.3 855)" fill="#fff" stroke="#000" stroke-width="1.9" /><line x1="714.8" y1="940.5" x2="752" y2="956.4" stroke="#888" stroke-width="1.3" stroke-dasharray="8 6"/><path d="M750.8,960.5 751,959 751.3,957.5 751.9,956 752.5,954.5 753.3,953.1 754.3,951.9 755.3,950.7 756.5,949.7 757.7,948.9 759,948.2 760.3,947.7 761.7,947.4 763,947.3 764.3,947.4 765.5,947.7 768.1,948.6 769.3,949.1 770.3,949.8 771.3,950.6 772.1,951.6 772.8,952.8 773.3,954 773.6,955.4 773.8,956.9 773.8,958.4 773.6,959.9 773.3,961.4 772.7,962.9 772.1,964.4 771.3,965.8 770.3,967 769.3,968.2 768.1,969.2 766.9,970 765.6,970.7 764.3,971.2 762.9,971.5 761.6,971.6 760.3,971.5 759.1,971.2 756.5,970.3 755.3,969.8 754.3,969.1 753.3,968.3 752.5,967.3 751.9,966.1 751.3,964.9 751,963.5 750.8,962 Z" fill="#fff" stroke="#000" stroke-width="2.2" stroke-linejoin="round" /><ellipse cx="763.6" cy="959.9" rx="12.2" ry="9.6" transform="rotate(117.5 763.6 959.9)" fill="#fff" stroke="#000" stroke-width="2.2" /><ellipse cx="764" cy="960.5" rx="5.6" ry="3.3" transform="rotate(105.7 764 960.5)" fill="#fff" stroke="#000" stroke-width="1.7" /><path d="M800.5,979.1 800.5,978.4 800.6,977.6 800.8,976.8 801,976.1 801.3,975.4 801.7,974.7 802.1,974.1 802.6,973.5 803.1,973 803.7,972.6 804.2,972.2 804.8,972 805.4,971.9 806,971.8 806.6,971.9 807.1,972 868.1,993.4 868.6,993.6 869.1,994 869.5,994.4 869.8,994.9 870.1,995.5 870.3,996.1 870.4,996.8 870.5,997.5 870.5,998.2 870.4,999 870.2,999.8 870,1000.5 869.7,1001.2 869.3,1001.9 868.9,1002.5 868.4,1003.1 867.9,1003.6 867.3,1004 866.8,1004.4 866.2,1004.6 865.6,1004.8 865,1004.8 864.4,1004.8 863.9,1004.6 802.9,983.2 802.4,983 801.9,982.6 801.5,982.2 801.2,981.7 800.9,981.1 800.7,980.5 800.6,979.8 Z" fill="#fff" stroke="#000" stroke-width="2.2" stroke-linejoin="round" /><path d="M855,1003.5 855,1002 855.2,1000.5 855.5,999 856,997.5 856.6,996 857.3,994.5 858.1,993.1 859.1,991.9 860.1,990.7 861.2,989.7 862.4,988.9 863.5,988.2 864.7,987.7 865.9,987.4 867,987.3 868.1,987.4 869.1,987.7 873.8,989.5 874.7,990 875.5,990.7 876.2,991.5 876.8,992.5 877.3,993.7 877.5,995 877.7,996.3 877.7,997.8 877.5,999.3 877.2,1000.8 876.7,1002.3 876.1,1003.8 875.4,1005.3 874.5,1006.6 873.6,1007.9 872.6,1009.1 871.5,1010.1 870.3,1010.9 869.2,1011.6 868,1012.1 866.8,1012.4 865.7,1012.5 864.6,1012.4 863.6,1012.1 858.9,1010.3 858,1009.8 857.2,1009.1 856.5,1008.3 855.9,1007.3 855.4,1006.1 855.1,1004.9 Z" fill="#fff" stroke="#000" stroke-width="2.2" stroke-linejoin="round" /><ellipse cx="868.7" cy="1000.8" rx="12.4" ry="8" transform="rotate(115.7 868.7 1000.8)" fill="#fff" stroke="#000" stroke-width="2.2" /><ellipse cx="871" cy="1002" rx="4.2" ry="2.7" transform="rotate(114.4 871 1002)" fill="#222" stroke="#000" stroke-width="1.4" /><path d="M898.5,932.5 898.5,931.8 898.6,931 898.8,930.2 899,929.5 899.3,928.8 899.7,928.1 900.1,927.5 900.6,926.9 901.1,926.4 901.7,926 902.2,925.6 902.8,925.4 903.4,925.2 904,925.2 904.6,925.2 905.1,925.4 942.1,938.4 942.6,938.6 943.1,939 943.5,939.4 943.8,939.9 944.1,940.5 944.3,941.1 944.4,941.8 944.5,942.5 944.5,943.2 944.4,944 944.2,944.8 944,945.5 943.7,946.2 943.3,946.9 942.9,947.5 942.4,948.1 941.9,948.6 941.3,949 940.8,949.4 940.2,949.6 939.6,949.8 939,949.8 938.4,949.8 937.9,949.6 900.9,936.6 900.4,936.4 899.9,936 899.5,935.6 899.2,935.1 898.9,934.5 898.7,933.9 898.6,933.2 Z" fill="#fff" stroke="#000" stroke-width="2.2" stroke-linejoin="round" /><path d="M930,948.2 930,946.9 930.2,945.4 930.5,944 931,942.6 931.6,941.1 932.3,939.8 933.1,938.5 934.1,937.3 935.1,936.2 936.2,935.3 937.4,934.5 938.5,933.8 939.7,933.4 940.9,933.1 942,933 943.1,933.1 944.1,933.4 948.3,934.7 949.2,935.1 950,935.8 950.8,936.6 951.3,937.5 951.8,938.6 952,939.8 952.2,941.1 952.2,942.5 952,943.9 951.7,945.3 951.2,946.7 950.6,948.1 949.9,949.5 949,950.8 948.1,952 947.1,953.1 946,954 944.8,954.8 943.7,955.5 942.5,955.9 941.3,956.2 940.2,956.3 939.1,956.2 938.1,955.9 933.9,954.6 933,954.2 932.2,953.5 931.5,952.7 930.9,951.8 930.4,950.7 930.1,949.5 Z" fill="#fff" stroke="#000" stroke-width="2.2" stroke-linejoin="round" /><ellipse cx="943.2" cy="945.3" rx="11.8" ry="7.9" transform="rotate(119.4 943.2 945.3)" fill="#fff" stroke="#000" stroke-width="2.2" /><ellipse cx="945.5" cy="946.5" rx="4.2" ry="2.7" transform="rotate(114.4 945.5 946.5)" fill="#222" stroke="#000" stroke-width="1.4" /><line x1="429.8" y1="646.6" x2="465.8" y2="686.5" stroke="#000" stroke-width="1.8" /><line x1="293.9" y1="679.6" x2="344.3" y2="702.2" stroke="#000" stroke-width="1.8" /><line x1="261.6" y1="693.9" x2="254.1" y2="741.3" stroke="#000" stroke-width="1.8" /><line x1="632.4" y1="741" x2="596" y2="799.4" stroke="#000" stroke-width="1.8" /><line x1="449.6" y1="841.5" x2="415" y2="911" stroke="#000" stroke-width="1.8" /><line x1="765" y1="973" x2="779.6" y2="1031.4" stroke="#000" stroke-width="1.8" /><line x1="867.3" y1="1015.4" x2="880.4" y2="1041" stroke="#000" stroke-width="1.8" /><line x1="947.6" y1="954" x2="982.6" y2="987.6" stroke="#000" stroke-width="1.8" /><line x1="419" y1="163.7" x2="353.4" y2="259.2" stroke="#333" stroke-width="1.2" /><circle cx="353.4" cy="259.2" r="1.6" fill="#000"/><line x1="559.5" y1="224" x2="431.9" y2="385.5" stroke="#333" stroke-width="1.2" /><circle cx="431.9" cy="385.5" r="1.6" fill="#000"/><circle cx="99" cy="85" r="28" fill="none" stroke="#5a5a5a" stroke-width="1"/><text x="99" y="94.5" font-size="27" text-anchor="middle" fill="#000">5</text><circle cx="205" cy="94" r="28" fill="none" stroke="#5a5a5a" stroke-width="1"/><text x="205" y="103.5" font-size="27" text-anchor="middle" fill="#000">6</text><circle cx="240" cy="220" r="28" fill="none" stroke="#5a5a5a" stroke-width="1"/><text x="240" y="229.5" font-size="27" text-anchor="middle" fill="#000">7</text><circle cx="436" cy="140" r="28" fill="none" stroke="#5a5a5a" stroke-width="1"/><text x="436" y="149.5" font-size="27" text-anchor="middle" fill="#000">2</text><circle cx="577.5" cy="198.4" r="28" fill="none" stroke="#5a5a5a" stroke-width="1"/><text x="577.5" y="207.9" font-size="27" text-anchor="middle" fill="#000">1</text><circle cx="68" cy="457.5" r="28" fill="none" stroke="#5a5a5a" stroke-width="1"/><text x="68" y="467" font-size="27" text-anchor="middle" fill="#000">4</text><circle cx="202.4" cy="480.7" r="28" fill="none" stroke="#5a5a5a" stroke-width="1"/><text x="202.4" y="490.2" font-size="27" text-anchor="middle" fill="#000">3</text><circle cx="411.9" cy="624.2" r="27.5" fill="#fff" stroke="#000" stroke-width="2"/><text transform="translate(411.9 636.7) rotate(-6) scale(0.72 1)" font-size="35" text-anchor="middle" fill="#000">23</text><circle cx="268.4" cy="666.1" r="27.5" fill="#fff" stroke="#000" stroke-width="2"/><text transform="translate(268.4 678.6) rotate(-6) scale(0.72 1)" font-size="35" text-anchor="middle" fill="#000">27</text><circle cx="646.5" cy="714.5" r="27.5" fill="#fff" stroke="#000" stroke-width="2"/><text transform="translate(646.5 727) rotate(-6) scale(0.72 1)" font-size="35" text-anchor="middle" fill="#000">21</text><circle cx="402" cy="938" r="27.5" fill="#fff" stroke="#000" stroke-width="2"/><text transform="translate(402 950.5) rotate(-6) scale(0.72 1)" font-size="35" text-anchor="middle" fill="#000">22</text><circle cx="788.4" cy="1057.7" r="27.5" fill="#fff" stroke="#000" stroke-width="2"/><text transform="translate(788.4 1070.2) rotate(-6) scale(0.72 1)" font-size="35" text-anchor="middle" fill="#000">24</text><circle cx="889.2" cy="1067.9" r="27.5" fill="#fff" stroke="#000" stroke-width="2"/><text transform="translate(889.2 1080.4) rotate(-6) scale(0.72 1)" font-size="35" text-anchor="middle" fill="#000">25</text><circle cx="1006" cy="1005.7" r="27.5" fill="#fff" stroke="#000" stroke-width="2"/><text transform="translate(1006 1018.2) rotate(-6) scale(0.72 1)" font-size="35" text-anchor="middle" fill="#000">26</text><defs><linearGradient id="gh" x1="0" y1="0" x2="1" y2="0"><stop offset="0" stop-color="#e8e8e8"/><stop offset="0.55" stop-color="#ececec"/><stop offset="0.8" stop-color="#f3f3f3"/><stop offset="1" stop-color="#fdfdfd"/></linearGradient><linearGradient id="gva" x1="0" y1="0" x2="0" y2="1"><stop offset="0" stop-color="#fff" stop-opacity="0"/><stop offset="0.5" stop-color="#fff" stop-opacity="0.75"/><stop offset="1" stop-color="#fff" stop-opacity="1"/></linearGradient><mask id="mv" maskUnits="userSpaceOnUse" x="0" y="1062" width="1130" height="68"><rect x="0" y="1062" width="1130" height="68" fill="url(#gva)"/></mask></defs><rect x="0" y="1062" width="1130" height="68" fill="url(#gh)" mask="url(#mv)"/></svg></body></html>
